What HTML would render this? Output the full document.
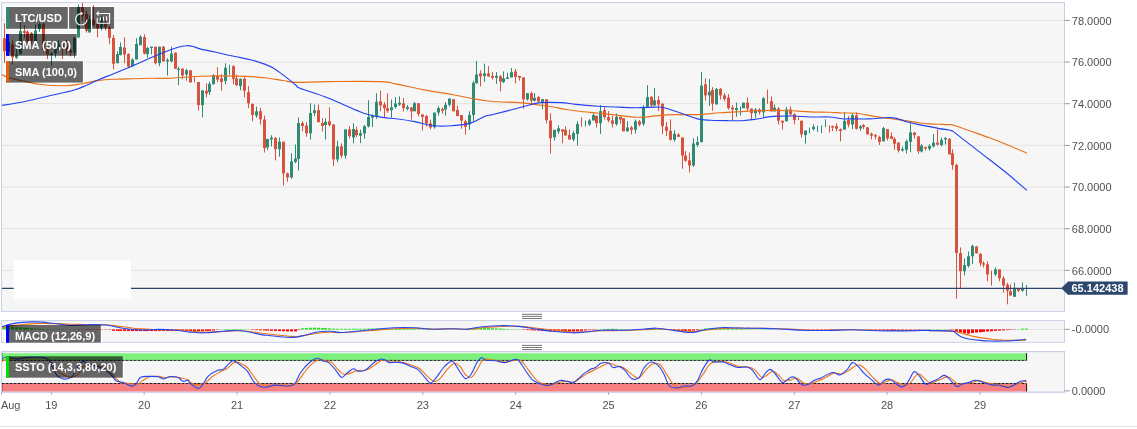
<!DOCTYPE html>
<html><head><meta charset="utf-8"><title>LTC/USD</title>
<style>html,body{margin:0;padding:0;background:#fff;overflow:hidden}body{width:1137px;height:429px;position:relative}</style>
</head><body>
<svg width="1137" height="429" viewBox="0 0 1137 429" style="position:absolute;left:0;top:0" font-family="Liberation Sans, Arial, sans-serif">
<rect x="1.5" y="2.5" width="1063.0" height="308.9" fill="#f6f6f6" stroke="#c9d0e8" stroke-width="1"/>
<rect x="1.5" y="320.6" width="1063.0" height="21.799999999999955" fill="#f6f6f6" stroke="#c9d0e8" stroke-width="1"/>
<rect x="1.5" y="351.6" width="1063.0" height="40.599999999999966" fill="#f6f6f6" stroke="#c9d0e8" stroke-width="1"/>
<line x1="2.0" x2="1064.0" y1="270.40" y2="270.40" stroke="#e2e2e2" stroke-width="1"/>
<line x1="2.0" x2="1064.0" y1="228.73" y2="228.73" stroke="#e2e2e2" stroke-width="1"/>
<line x1="2.0" x2="1064.0" y1="187.07" y2="187.07" stroke="#e2e2e2" stroke-width="1"/>
<line x1="2.0" x2="1064.0" y1="145.40" y2="145.40" stroke="#e2e2e2" stroke-width="1"/>
<line x1="2.0" x2="1064.0" y1="103.73" y2="103.73" stroke="#e2e2e2" stroke-width="1"/>
<line x1="2.0" x2="1064.0" y1="62.07" y2="62.07" stroke="#e2e2e2" stroke-width="1"/>
<line x1="2.0" x2="1064.0" y1="20.40" y2="20.40" stroke="#e2e2e2" stroke-width="1"/>
<line x1="2.0" x2="1064.0" y1="329.5" y2="329.5" stroke="#e2e2e2" stroke-width="1"/>
<rect x="4.7" y="5.7" width="64.4" height="24.4" fill="#fff"/>
<rect x="67.8" y="5.7" width="24.4" height="24.4" fill="#fff"/>
<rect x="90.8" y="5.7" width="24.6" height="24.4" fill="#fff"/>
<rect x="4.7" y="32.7" width="73.3" height="24.4" fill="#fff"/>
<rect x="4.7" y="59.9" width="79.5" height="24.0" fill="#fff"/>
<rect x="4.7" y="323.7" width="97.4" height="20.3" fill="#fff"/>
<rect x="4.7" y="355.0" width="119.4" height="24.0" fill="#fff"/>
<clipPath id="cm"><rect x="2.0" y="3.0" width="1062.0" height="307.9"/></clipPath>
<clipPath id="cs"><rect x="2.0" y="352.1" width="1062.0" height="39.599999999999966"/></clipPath>
<clipPath id="cd"><rect x="2.0" y="321.1" width="1062.0" height="20.799999999999955"/></clipPath>
<g clip-path="url(#cm)">
<line x1="0.50" x2="0.50" y1="31.00" y2="73.00" stroke="#2f8c74" stroke-width="1"/>
<rect x="-1" y="45.00" width="3" height="23.00" fill="#2f8c74"/>
<line x1="4.50" x2="4.50" y1="23.30" y2="63.00" stroke="#d8533f" stroke-width="1"/>
<rect x="3" y="38.30" width="3" height="13.00" fill="#d8533f"/>
<line x1="8.50" x2="8.50" y1="40.00" y2="56.00" stroke="#2f8c74" stroke-width="1"/>
<rect x="7" y="42.00" width="3" height="10.00" fill="#2f8c74"/>
<line x1="12.50" x2="12.50" y1="40.20" y2="64.30" stroke="#d8533f" stroke-width="1"/>
<rect x="11" y="44.10" width="3" height="13.10" fill="#d8533f"/>
<line x1="16.50" x2="16.50" y1="48.70" y2="58.90" stroke="#2f8c74" stroke-width="1"/>
<rect x="15" y="54.60" width="3" height="3.20" fill="#2f8c74"/>
<line x1="20.50" x2="20.50" y1="22.00" y2="54.50" stroke="#2f8c74" stroke-width="1"/>
<rect x="19" y="31.10" width="3" height="22.80" fill="#2f8c74"/>
<line x1="24.50" x2="24.50" y1="25.20" y2="38.30" stroke="#d8533f" stroke-width="1"/>
<rect x="23" y="31.10" width="3" height="1.90" fill="#d8533f"/>
<line x1="27.50" x2="27.50" y1="30.40" y2="42.00" stroke="#d8533f" stroke-width="1"/>
<rect x="26" y="31.70" width="3" height="9.80" fill="#d8533f"/>
<line x1="31.50" x2="31.50" y1="32.00" y2="44.00" stroke="#d8533f" stroke-width="1"/>
<rect x="30" y="33.00" width="3" height="7.90" fill="#d8533f"/>
<line x1="35.50" x2="35.50" y1="24.60" y2="42.00" stroke="#2f8c74" stroke-width="1"/>
<rect x="34" y="30.40" width="3" height="11.10" fill="#2f8c74"/>
<line x1="39.50" x2="39.50" y1="22.60" y2="31.70" stroke="#2f8c74" stroke-width="1"/>
<rect x="38" y="23.90" width="3" height="5.20" fill="#2f8c74"/>
<line x1="43.50" x2="43.50" y1="23.00" y2="51.00" stroke="#d8533f" stroke-width="1"/>
<rect x="42" y="23.70" width="3" height="26.30" fill="#d8533f"/>
<line x1="47.50" x2="47.50" y1="48.00" y2="59.10" stroke="#d8533f" stroke-width="1"/>
<rect x="46" y="49.30" width="3" height="5.30" fill="#d8533f"/>
<line x1="51.50" x2="51.50" y1="52.00" y2="65.70" stroke="#2f8c74" stroke-width="1"/>
<rect x="50" y="53.30" width="3" height="1.70" fill="#2f8c74"/>
<line x1="55.50" x2="55.50" y1="48.00" y2="57.80" stroke="#2f8c74" stroke-width="1"/>
<rect x="54" y="49.30" width="3" height="4.00" fill="#2f8c74"/>
<line x1="58.50" x2="58.50" y1="40.20" y2="50.70" stroke="#2f8c74" stroke-width="1"/>
<rect x="57" y="44.00" width="3" height="5.30" fill="#2f8c74"/>
<line x1="62.50" x2="62.50" y1="43.00" y2="59.10" stroke="#d8533f" stroke-width="1"/>
<rect x="61" y="44.00" width="3" height="3.00" fill="#d8533f"/>
<line x1="66.50" x2="66.50" y1="39.60" y2="53.90" stroke="#d8533f" stroke-width="1"/>
<rect x="65" y="44.10" width="3" height="5.20" fill="#d8533f"/>
<line x1="70.50" x2="70.50" y1="49.00" y2="56.50" stroke="#d8533f" stroke-width="1"/>
<rect x="69" y="50.00" width="3" height="2.60" fill="#d8533f"/>
<line x1="74.50" x2="74.50" y1="37.00" y2="57.80" stroke="#2f8c74" stroke-width="1"/>
<rect x="73" y="37.60" width="3" height="15.00" fill="#2f8c74"/>
<line x1="78.50" x2="78.50" y1="4.60" y2="38.00" stroke="#2f8c74" stroke-width="1"/>
<rect x="77" y="7.00" width="3" height="30.40" fill="#2f8c74"/>
<line x1="82.50" x2="82.50" y1="1.80" y2="21.00" stroke="#d8533f" stroke-width="1"/>
<rect x="81" y="7.20" width="3" height="9.20" fill="#d8533f"/>
<line x1="86.50" x2="86.50" y1="10.30" y2="32.60" stroke="#d8533f" stroke-width="1"/>
<rect x="85" y="13.80" width="3" height="17.00" fill="#d8533f"/>
<line x1="89.50" x2="89.50" y1="15.20" y2="33.00" stroke="#2f8c74" stroke-width="1"/>
<rect x="88" y="19.00" width="3" height="13.30" fill="#2f8c74"/>
<line x1="93.50" x2="93.50" y1="5.10" y2="26.50" stroke="#d8533f" stroke-width="1"/>
<rect x="92" y="19.50" width="3" height="5.60" fill="#d8533f"/>
<line x1="97.50" x2="97.50" y1="22.00" y2="37.40" stroke="#d8533f" stroke-width="1"/>
<rect x="96" y="23.60" width="3" height="4.60" fill="#d8533f"/>
<line x1="101.50" x2="101.50" y1="16.40" y2="30.60" stroke="#2f8c74" stroke-width="1"/>
<rect x="100" y="19.00" width="3" height="8.70" fill="#2f8c74"/>
<line x1="105.50" x2="105.50" y1="20.00" y2="30.60" stroke="#d8533f" stroke-width="1"/>
<rect x="104" y="22.00" width="3" height="5.20" fill="#d8533f"/>
<line x1="109.50" x2="109.50" y1="26.00" y2="44.20" stroke="#d8533f" stroke-width="1"/>
<rect x="108" y="27.50" width="3" height="10.40" fill="#d8533f"/>
<line x1="113.50" x2="113.50" y1="34.90" y2="69.40" stroke="#d8533f" stroke-width="1"/>
<rect x="112" y="37.90" width="3" height="25.90" fill="#d8533f"/>
<line x1="117.50" x2="117.50" y1="51.30" y2="63.20" stroke="#2f8c74" stroke-width="1"/>
<rect x="116" y="54.10" width="3" height="9.10" fill="#2f8c74"/>
<line x1="120.50" x2="120.50" y1="42.40" y2="55.40" stroke="#2f8c74" stroke-width="1"/>
<rect x="119" y="47.00" width="3" height="8.00" fill="#2f8c74"/>
<line x1="124.50" x2="124.50" y1="37.30" y2="63.20" stroke="#d8533f" stroke-width="1"/>
<rect x="123" y="47.60" width="3" height="6.90" fill="#d8533f"/>
<line x1="128.50" x2="128.50" y1="53.20" y2="68.10" stroke="#d8533f" stroke-width="1"/>
<rect x="127" y="54.10" width="3" height="12.50" fill="#d8533f"/>
<line x1="132.50" x2="132.50" y1="58.20" y2="66.20" stroke="#2f8c74" stroke-width="1"/>
<rect x="131" y="59.50" width="3" height="6.70" fill="#2f8c74"/>
<line x1="136.50" x2="136.50" y1="38.30" y2="59.50" stroke="#2f8c74" stroke-width="1"/>
<rect x="135" y="43.90" width="3" height="15.60" fill="#2f8c74"/>
<line x1="140.50" x2="140.50" y1="35.30" y2="45.20" stroke="#2f8c74" stroke-width="1"/>
<rect x="139" y="36.80" width="3" height="8.40" fill="#2f8c74"/>
<line x1="144.50" x2="144.50" y1="34.20" y2="54.50" stroke="#d8533f" stroke-width="1"/>
<rect x="143" y="37.10" width="3" height="16.50" fill="#d8533f"/>
<line x1="147.50" x2="147.50" y1="46.70" y2="57.70" stroke="#2f8c74" stroke-width="1"/>
<rect x="146" y="48.00" width="3" height="6.10" fill="#2f8c74"/>
<line x1="151.50" x2="151.50" y1="46.70" y2="54.50" stroke="#2f8c74" stroke-width="1"/>
<rect x="150" y="46.70" width="3" height="1.30" fill="#2f8c74"/>
<line x1="155.50" x2="155.50" y1="46.70" y2="64.40" stroke="#d8533f" stroke-width="1"/>
<rect x="154" y="46.70" width="3" height="16.50" fill="#d8533f"/>
<line x1="159.50" x2="159.50" y1="46.70" y2="66.20" stroke="#2f8c74" stroke-width="1"/>
<rect x="158" y="46.70" width="3" height="16.50" fill="#2f8c74"/>
<line x1="163.50" x2="163.50" y1="46.10" y2="61.40" stroke="#d8533f" stroke-width="1"/>
<rect x="162" y="46.70" width="3" height="14.70" fill="#d8533f"/>
<line x1="167.50" x2="167.50" y1="58.20" y2="75.50" stroke="#2f8c74" stroke-width="1"/>
<rect x="166" y="60.00" width="3" height="1.40" fill="#2f8c74"/>
<line x1="171.50" x2="171.50" y1="46.70" y2="62.50" stroke="#2f8c74" stroke-width="1"/>
<rect x="170" y="53.60" width="3" height="7.80" fill="#2f8c74"/>
<line x1="175.50" x2="175.50" y1="52.60" y2="68.80" stroke="#d8533f" stroke-width="1"/>
<rect x="174" y="52.60" width="3" height="16.20" fill="#d8533f"/>
<line x1="178.50" x2="178.50" y1="66.60" y2="85.20" stroke="#2f8c74" stroke-width="1"/>
<rect x="177" y="68.80" width="3" height="1.20" fill="#2f8c74"/>
<line x1="182.50" x2="182.50" y1="68.50" y2="79.30" stroke="#d8533f" stroke-width="1"/>
<rect x="181" y="68.50" width="3" height="7.00" fill="#d8533f"/>
<line x1="186.50" x2="186.50" y1="68.80" y2="80.60" stroke="#2f8c74" stroke-width="1"/>
<rect x="185" y="70.30" width="3" height="4.10" fill="#2f8c74"/>
<line x1="190.50" x2="190.50" y1="70.30" y2="82.40" stroke="#d8533f" stroke-width="1"/>
<rect x="189" y="70.30" width="3" height="12.10" fill="#d8533f"/>
<line x1="194.50" x2="194.50" y1="76.80" y2="82.40" stroke="#d8533f" stroke-width="1"/>
<line x1="198.50" x2="198.50" y1="82.00" y2="110.40" stroke="#d8533f" stroke-width="1"/>
<rect x="197" y="82.00" width="3" height="23.10" fill="#d8533f"/>
<line x1="202.50" x2="202.50" y1="90.40" y2="117.30" stroke="#2f8c74" stroke-width="1"/>
<rect x="201" y="90.40" width="3" height="14.70" fill="#2f8c74"/>
<line x1="206.50" x2="206.50" y1="83.30" y2="97.30" stroke="#d8533f" stroke-width="1"/>
<rect x="205" y="90.80" width="3" height="2.80" fill="#d8533f"/>
<line x1="209.50" x2="209.50" y1="81.50" y2="95.00" stroke="#2f8c74" stroke-width="1"/>
<rect x="208" y="83.90" width="3" height="8.20" fill="#2f8c74"/>
<line x1="213.50" x2="213.50" y1="74.00" y2="84.30" stroke="#2f8c74" stroke-width="1"/>
<rect x="212" y="75.30" width="3" height="9.00" fill="#2f8c74"/>
<line x1="217.50" x2="217.50" y1="67.10" y2="82.40" stroke="#d8533f" stroke-width="1"/>
<rect x="216" y="75.90" width="3" height="3.70" fill="#d8533f"/>
<line x1="221.50" x2="221.50" y1="74.00" y2="90.80" stroke="#d8533f" stroke-width="1"/>
<rect x="220" y="78.30" width="3" height="3.70" fill="#d8533f"/>
<line x1="225.50" x2="225.50" y1="63.20" y2="84.30" stroke="#2f8c74" stroke-width="1"/>
<rect x="224" y="67.80" width="3" height="13.10" fill="#2f8c74"/>
<line x1="229.50" x2="229.50" y1="64.70" y2="74.90" stroke="#2f8c74" stroke-width="1"/>
<line x1="233.50" x2="233.50" y1="65.20" y2="84.30" stroke="#d8533f" stroke-width="1"/>
<rect x="232" y="66.20" width="3" height="12.50" fill="#d8533f"/>
<line x1="236.50" x2="236.50" y1="74.60" y2="86.10" stroke="#d8533f" stroke-width="1"/>
<rect x="235" y="78.30" width="3" height="6.90" fill="#d8533f"/>
<line x1="240.50" x2="240.50" y1="78.70" y2="90.20" stroke="#2f8c74" stroke-width="1"/>
<rect x="239" y="78.70" width="3" height="7.40" fill="#2f8c74"/>
<line x1="244.50" x2="244.50" y1="77.20" y2="97.30" stroke="#d8533f" stroke-width="1"/>
<rect x="243" y="78.70" width="3" height="12.10" fill="#d8533f"/>
<line x1="248.50" x2="248.50" y1="86.10" y2="108.10" stroke="#d8533f" stroke-width="1"/>
<rect x="247" y="92.10" width="3" height="11.20" fill="#d8533f"/>
<line x1="252.50" x2="252.50" y1="103.80" y2="121.20" stroke="#d8533f" stroke-width="1"/>
<rect x="251" y="103.80" width="3" height="11.20" fill="#d8533f"/>
<line x1="256.50" x2="256.50" y1="106.60" y2="117.80" stroke="#2f8c74" stroke-width="1"/>
<rect x="255" y="111.30" width="3" height="4.30" fill="#2f8c74"/>
<line x1="260.50" x2="260.50" y1="107.60" y2="124.50" stroke="#d8533f" stroke-width="1"/>
<rect x="259" y="111.20" width="3" height="8.10" fill="#d8533f"/>
<line x1="264.50" x2="264.50" y1="115.60" y2="152.50" stroke="#d8533f" stroke-width="1"/>
<rect x="263" y="119.50" width="3" height="28.70" fill="#d8533f"/>
<line x1="267.50" x2="267.50" y1="138.90" y2="150.10" stroke="#2f8c74" stroke-width="1"/>
<rect x="266" y="138.90" width="3" height="8.40" fill="#2f8c74"/>
<line x1="271.50" x2="271.50" y1="135.20" y2="146.40" stroke="#2f8c74" stroke-width="1"/>
<rect x="270" y="137.60" width="3" height="1.90" fill="#2f8c74"/>
<line x1="275.50" x2="275.50" y1="137.00" y2="160.40" stroke="#d8533f" stroke-width="1"/>
<rect x="274" y="138.00" width="3" height="11.20" fill="#d8533f"/>
<line x1="279.50" x2="279.50" y1="137.60" y2="156.60" stroke="#2f8c74" stroke-width="1"/>
<rect x="278" y="141.70" width="3" height="7.50" fill="#2f8c74"/>
<line x1="283.50" x2="283.50" y1="141.70" y2="185.60" stroke="#d8533f" stroke-width="1"/>
<rect x="282" y="141.70" width="3" height="31.70" fill="#d8533f"/>
<line x1="287.50" x2="287.50" y1="172.50" y2="181.80" stroke="#d8533f" stroke-width="1"/>
<rect x="286" y="173.40" width="3" height="4.10" fill="#d8533f"/>
<line x1="291.50" x2="291.50" y1="153.30" y2="178.70" stroke="#2f8c74" stroke-width="1"/>
<rect x="290" y="161.30" width="3" height="16.20" fill="#2f8c74"/>
<line x1="295.50" x2="295.50" y1="144.50" y2="163.20" stroke="#2f8c74" stroke-width="1"/>
<rect x="294" y="158.50" width="3" height="3.40" fill="#2f8c74"/>
<line x1="298.50" x2="298.50" y1="117.50" y2="170.60" stroke="#2f8c74" stroke-width="1"/>
<rect x="297" y="123.10" width="3" height="35.80" fill="#2f8c74"/>
<line x1="302.50" x2="302.50" y1="121.20" y2="131.20" stroke="#d8533f" stroke-width="1"/>
<rect x="301" y="123.10" width="3" height="2.90" fill="#d8533f"/>
<line x1="306.50" x2="306.50" y1="122.10" y2="136.60" stroke="#d8533f" stroke-width="1"/>
<rect x="305" y="125.50" width="3" height="7.80" fill="#d8533f"/>
<line x1="310.50" x2="310.50" y1="103.20" y2="139.50" stroke="#2f8c74" stroke-width="1"/>
<rect x="309" y="113.00" width="3" height="20.30" fill="#2f8c74"/>
<line x1="314.50" x2="314.50" y1="104.50" y2="116.30" stroke="#2f8c74" stroke-width="1"/>
<rect x="313" y="110.30" width="3" height="2.70" fill="#2f8c74"/>
<line x1="318.50" x2="318.50" y1="104.50" y2="122.20" stroke="#d8533f" stroke-width="1"/>
<rect x="317" y="110.10" width="3" height="12.10" fill="#d8533f"/>
<line x1="322.50" x2="322.50" y1="118.20" y2="131.50" stroke="#d8533f" stroke-width="1"/>
<rect x="321" y="123.00" width="3" height="3.00" fill="#d8533f"/>
<line x1="325.50" x2="325.50" y1="118.20" y2="139.50" stroke="#2f8c74" stroke-width="1"/>
<rect x="324" y="121.70" width="3" height="3.30" fill="#2f8c74"/>
<line x1="329.50" x2="329.50" y1="107.30" y2="126.40" stroke="#d8533f" stroke-width="1"/>
<rect x="328" y="121.30" width="3" height="3.70" fill="#d8533f"/>
<line x1="333.50" x2="333.50" y1="124.50" y2="166.00" stroke="#d8533f" stroke-width="1"/>
<rect x="332" y="124.50" width="3" height="34.90" fill="#d8533f"/>
<line x1="337.50" x2="337.50" y1="140.70" y2="162.20" stroke="#2f8c74" stroke-width="1"/>
<rect x="336" y="146.40" width="3" height="13.00" fill="#2f8c74"/>
<line x1="341.50" x2="341.50" y1="143.40" y2="158.10" stroke="#d8533f" stroke-width="1"/>
<rect x="340" y="146.40" width="3" height="9.30" fill="#d8533f"/>
<line x1="345.50" x2="345.50" y1="129.40" y2="158.50" stroke="#2f8c74" stroke-width="1"/>
<rect x="344" y="129.40" width="3" height="26.30" fill="#2f8c74"/>
<line x1="349.50" x2="349.50" y1="126.20" y2="138.50" stroke="#d8533f" stroke-width="1"/>
<rect x="348" y="129.40" width="3" height="6.70" fill="#d8533f"/>
<line x1="353.50" x2="353.50" y1="123.30" y2="143.30" stroke="#2f8c74" stroke-width="1"/>
<rect x="352" y="129.00" width="3" height="8.40" fill="#2f8c74"/>
<line x1="356.50" x2="356.50" y1="126.80" y2="137.20" stroke="#d8533f" stroke-width="1"/>
<rect x="355" y="129.90" width="3" height="5.30" fill="#d8533f"/>
<line x1="360.50" x2="360.50" y1="129.70" y2="143.10" stroke="#2f8c74" stroke-width="1"/>
<rect x="359" y="133.10" width="3" height="2.60" fill="#2f8c74"/>
<line x1="364.50" x2="364.50" y1="125.00" y2="138.70" stroke="#2f8c74" stroke-width="1"/>
<rect x="363" y="126.30" width="3" height="7.10" fill="#2f8c74"/>
<line x1="368.50" x2="368.50" y1="100.20" y2="127.50" stroke="#2f8c74" stroke-width="1"/>
<rect x="367" y="117.00" width="3" height="9.30" fill="#2f8c74"/>
<line x1="372.50" x2="372.50" y1="114.40" y2="126.90" stroke="#2f8c74" stroke-width="1"/>
<rect x="371" y="115.70" width="3" height="1.90" fill="#2f8c74"/>
<line x1="376.50" x2="376.50" y1="93.30" y2="118.90" stroke="#2f8c74" stroke-width="1"/>
<rect x="375" y="101.70" width="3" height="14.90" fill="#2f8c74"/>
<line x1="380.50" x2="380.50" y1="90.50" y2="111.40" stroke="#d8533f" stroke-width="1"/>
<rect x="379" y="101.30" width="3" height="4.10" fill="#d8533f"/>
<line x1="384.50" x2="384.50" y1="102.10" y2="117.00" stroke="#d8533f" stroke-width="1"/>
<rect x="383" y="104.50" width="3" height="3.70" fill="#d8533f"/>
<line x1="387.50" x2="387.50" y1="93.30" y2="112.90" stroke="#d8533f" stroke-width="1"/>
<rect x="386" y="108.20" width="3" height="2.80" fill="#d8533f"/>
<line x1="391.50" x2="391.50" y1="99.50" y2="117.60" stroke="#2f8c74" stroke-width="1"/>
<rect x="390" y="107.30" width="3" height="2.80" fill="#2f8c74"/>
<line x1="395.50" x2="395.50" y1="97.10" y2="108.80" stroke="#2f8c74" stroke-width="1"/>
<rect x="394" y="103.50" width="3" height="3.50" fill="#2f8c74"/>
<line x1="399.50" x2="399.50" y1="96.40" y2="105.80" stroke="#2f8c74" stroke-width="1"/>
<rect x="398" y="102.70" width="3" height="1.90" fill="#2f8c74"/>
<line x1="403.50" x2="403.50" y1="98.10" y2="111.30" stroke="#d8533f" stroke-width="1"/>
<rect x="402" y="103.40" width="3" height="4.70" fill="#d8533f"/>
<line x1="407.50" x2="407.50" y1="105.10" y2="110.40" stroke="#2f8c74" stroke-width="1"/>
<rect x="406" y="107.00" width="3" height="1.90" fill="#2f8c74"/>
<line x1="411.50" x2="411.50" y1="107.00" y2="119.70" stroke="#d8533f" stroke-width="1"/>
<rect x="410" y="107.60" width="3" height="3.70" fill="#d8533f"/>
<line x1="414.50" x2="414.50" y1="102.00" y2="111.30" stroke="#2f8c74" stroke-width="1"/>
<rect x="413" y="103.30" width="3" height="8.00" fill="#2f8c74"/>
<line x1="418.50" x2="418.50" y1="103.30" y2="116.30" stroke="#d8533f" stroke-width="1"/>
<rect x="417" y="103.30" width="3" height="10.80" fill="#d8533f"/>
<line x1="422.50" x2="422.50" y1="114.50" y2="130.50" stroke="#d8533f" stroke-width="1"/>
<rect x="421" y="114.50" width="3" height="2.40" fill="#d8533f"/>
<line x1="426.50" x2="426.50" y1="115.00" y2="126.80" stroke="#d8533f" stroke-width="1"/>
<rect x="425" y="116.00" width="3" height="7.40" fill="#d8533f"/>
<line x1="430.50" x2="430.50" y1="119.70" y2="129.40" stroke="#d8533f" stroke-width="1"/>
<rect x="429" y="123.40" width="3" height="4.10" fill="#d8533f"/>
<line x1="434.50" x2="434.50" y1="112.60" y2="128.70" stroke="#2f8c74" stroke-width="1"/>
<rect x="433" y="112.60" width="3" height="14.60" fill="#2f8c74"/>
<line x1="438.50" x2="438.50" y1="106.30" y2="115.60" stroke="#2f8c74" stroke-width="1"/>
<rect x="437" y="108.10" width="3" height="4.50" fill="#2f8c74"/>
<line x1="442.50" x2="442.50" y1="107.60" y2="113.70" stroke="#d8533f" stroke-width="1"/>
<rect x="441" y="108.90" width="3" height="1.80" fill="#d8533f"/>
<line x1="445.50" x2="445.50" y1="102.00" y2="115.60" stroke="#2f8c74" stroke-width="1"/>
<rect x="444" y="104.80" width="3" height="4.60" fill="#2f8c74"/>
<line x1="449.50" x2="449.50" y1="98.20" y2="106.60" stroke="#2f8c74" stroke-width="1"/>
<rect x="448" y="98.60" width="3" height="6.20" fill="#2f8c74"/>
<line x1="453.50" x2="453.50" y1="99.20" y2="111.30" stroke="#d8533f" stroke-width="1"/>
<rect x="452" y="99.20" width="3" height="12.10" fill="#d8533f"/>
<line x1="457.50" x2="457.50" y1="105.70" y2="116.30" stroke="#d8533f" stroke-width="1"/>
<rect x="456" y="110.00" width="3" height="6.00" fill="#d8533f"/>
<line x1="461.50" x2="461.50" y1="115.00" y2="128.70" stroke="#d8533f" stroke-width="1"/>
<rect x="460" y="115.00" width="3" height="5.60" fill="#d8533f"/>
<line x1="465.50" x2="465.50" y1="119.70" y2="134.60" stroke="#d8533f" stroke-width="1"/>
<rect x="464" y="121.20" width="3" height="5.60" fill="#d8533f"/>
<line x1="469.50" x2="469.50" y1="111.30" y2="130.00" stroke="#2f8c74" stroke-width="1"/>
<rect x="468" y="115.00" width="3" height="9.40" fill="#2f8c74"/>
<line x1="473.50" x2="473.50" y1="80.90" y2="121.20" stroke="#2f8c74" stroke-width="1"/>
<rect x="472" y="82.80" width="3" height="32.20" fill="#2f8c74"/>
<line x1="476.50" x2="476.50" y1="60.90" y2="83.30" stroke="#2f8c74" stroke-width="1"/>
<rect x="475" y="74.60" width="3" height="8.70" fill="#2f8c74"/>
<line x1="480.50" x2="480.50" y1="70.30" y2="86.50" stroke="#d8533f" stroke-width="1"/>
<rect x="479" y="73.40" width="3" height="3.00" fill="#d8533f"/>
<line x1="484.50" x2="484.50" y1="63.70" y2="82.00" stroke="#2f8c74" stroke-width="1"/>
<rect x="483" y="73.40" width="3" height="2.50" fill="#2f8c74"/>
<line x1="488.50" x2="488.50" y1="66.00" y2="76.80" stroke="#d8533f" stroke-width="1"/>
<rect x="487" y="73.40" width="3" height="3.00" fill="#d8533f"/>
<line x1="492.50" x2="492.50" y1="72.10" y2="79.60" stroke="#d8533f" stroke-width="1"/>
<rect x="491" y="75.90" width="3" height="1.80" fill="#d8533f"/>
<line x1="496.50" x2="496.50" y1="72.10" y2="83.90" stroke="#2f8c74" stroke-width="1"/>
<rect x="495" y="75.90" width="3" height="1.80" fill="#2f8c74"/>
<line x1="500.50" x2="500.50" y1="75.00" y2="91.30" stroke="#d8533f" stroke-width="1"/>
<rect x="499" y="76.40" width="3" height="5.10" fill="#d8533f"/>
<line x1="503.50" x2="503.50" y1="71.40" y2="83.00" stroke="#2f8c74" stroke-width="1"/>
<rect x="502" y="78.30" width="3" height="3.80" fill="#2f8c74"/>
<line x1="507.50" x2="507.50" y1="72.70" y2="78.90" stroke="#2f8c74" stroke-width="1"/>
<rect x="506" y="77.40" width="3" height="1.50" fill="#2f8c74"/>
<line x1="511.50" x2="511.50" y1="68.10" y2="77.40" stroke="#2f8c74" stroke-width="1"/>
<rect x="510" y="72.20" width="3" height="5.20" fill="#2f8c74"/>
<line x1="515.50" x2="515.50" y1="69.00" y2="83.40" stroke="#d8533f" stroke-width="1"/>
<rect x="514" y="71.40" width="3" height="5.60" fill="#d8533f"/>
<line x1="519.50" x2="519.50" y1="75.90" y2="80.70" stroke="#d8533f" stroke-width="1"/>
<rect x="518" y="75.90" width="3" height="1.90" fill="#d8533f"/>
<line x1="523.50" x2="523.50" y1="77.40" y2="108.70" stroke="#d8533f" stroke-width="1"/>
<rect x="522" y="77.40" width="3" height="22.00" fill="#d8533f"/>
<line x1="527.50" x2="527.50" y1="93.20" y2="100.70" stroke="#2f8c74" stroke-width="1"/>
<rect x="526" y="93.20" width="3" height="6.20" fill="#2f8c74"/>
<line x1="531.50" x2="531.50" y1="91.90" y2="103.90" stroke="#d8533f" stroke-width="1"/>
<rect x="530" y="93.20" width="3" height="7.50" fill="#d8533f"/>
<line x1="534.50" x2="534.50" y1="93.20" y2="101.60" stroke="#2f8c74" stroke-width="1"/>
<rect x="533" y="97.90" width="3" height="2.80" fill="#2f8c74"/>
<line x1="538.50" x2="538.50" y1="96.00" y2="101.60" stroke="#d8533f" stroke-width="1"/>
<rect x="537" y="97.00" width="3" height="4.60" fill="#d8533f"/>
<line x1="542.50" x2="542.50" y1="99.20" y2="109.40" stroke="#2f8c74" stroke-width="1"/>
<rect x="541" y="99.20" width="3" height="3.70" fill="#2f8c74"/>
<line x1="546.50" x2="546.50" y1="99.20" y2="123.40" stroke="#d8533f" stroke-width="1"/>
<rect x="545" y="99.20" width="3" height="21.00" fill="#d8533f"/>
<line x1="550.50" x2="550.50" y1="113.30" y2="153.70" stroke="#d8533f" stroke-width="1"/>
<rect x="549" y="120.50" width="3" height="17.70" fill="#d8533f"/>
<line x1="554.50" x2="554.50" y1="129.70" y2="140.60" stroke="#2f8c74" stroke-width="1"/>
<rect x="553" y="129.80" width="3" height="7.40" fill="#2f8c74"/>
<line x1="558.50" x2="558.50" y1="125.30" y2="133.90" stroke="#2f8c74" stroke-width="1"/>
<rect x="557" y="128.30" width="3" height="3.20" fill="#2f8c74"/>
<line x1="562.50" x2="562.50" y1="129.40" y2="143.20" stroke="#d8533f" stroke-width="1"/>
<rect x="561" y="129.40" width="3" height="2.20" fill="#d8533f"/>
<line x1="565.50" x2="565.50" y1="126.40" y2="135.80" stroke="#d8533f" stroke-width="1"/>
<rect x="564" y="129.80" width="3" height="5.60" fill="#d8533f"/>
<line x1="569.50" x2="569.50" y1="129.40" y2="139.50" stroke="#d8533f" stroke-width="1"/>
<rect x="568" y="135.00" width="3" height="4.50" fill="#d8533f"/>
<line x1="573.50" x2="573.50" y1="130.70" y2="141.30" stroke="#2f8c74" stroke-width="1"/>
<rect x="572" y="133.10" width="3" height="6.40" fill="#2f8c74"/>
<line x1="577.50" x2="577.50" y1="121.30" y2="145.60" stroke="#2f8c74" stroke-width="1"/>
<rect x="576" y="124.10" width="3" height="9.80" fill="#2f8c74"/>
<line x1="581.50" x2="581.50" y1="117.30" y2="126.60" stroke="#d8533f" stroke-width="1"/>
<line x1="585.50" x2="585.50" y1="120.40" y2="126.50" stroke="#2f8c74" stroke-width="1"/>
<line x1="589.50" x2="589.50" y1="119.00" y2="125.80" stroke="#2f8c74" stroke-width="1"/>
<rect x="588" y="120.40" width="3" height="4.10" fill="#2f8c74"/>
<line x1="593.50" x2="593.50" y1="113.30" y2="120.40" stroke="#2f8c74" stroke-width="1"/>
<rect x="592" y="115.00" width="3" height="5.40" fill="#2f8c74"/>
<line x1="596.50" x2="596.50" y1="115.70" y2="127.50" stroke="#d8533f" stroke-width="1"/>
<rect x="595" y="115.70" width="3" height="7.50" fill="#d8533f"/>
<line x1="600.50" x2="600.50" y1="105.10" y2="133.90" stroke="#2f8c74" stroke-width="1"/>
<rect x="599" y="111.10" width="3" height="12.10" fill="#2f8c74"/>
<line x1="604.50" x2="604.50" y1="107.40" y2="119.50" stroke="#d8533f" stroke-width="1"/>
<rect x="603" y="110.20" width="3" height="6.90" fill="#d8533f"/>
<line x1="608.50" x2="608.50" y1="111.10" y2="122.30" stroke="#d8533f" stroke-width="1"/>
<rect x="607" y="117.10" width="3" height="3.30" fill="#d8533f"/>
<line x1="612.50" x2="612.50" y1="115.80" y2="127.50" stroke="#d8533f" stroke-width="1"/>
<rect x="611" y="120.40" width="3" height="3.40" fill="#d8533f"/>
<line x1="616.50" x2="616.50" y1="113.40" y2="125.70" stroke="#2f8c74" stroke-width="1"/>
<rect x="615" y="116.70" width="3" height="7.50" fill="#2f8c74"/>
<line x1="620.50" x2="620.50" y1="116.70" y2="123.80" stroke="#d8533f" stroke-width="1"/>
<rect x="619" y="116.70" width="3" height="2.80" fill="#d8533f"/>
<line x1="623.50" x2="623.50" y1="118.20" y2="131.30" stroke="#d8533f" stroke-width="1"/>
<rect x="622" y="118.20" width="3" height="13.10" fill="#d8533f"/>
<line x1="627.50" x2="627.50" y1="121.40" y2="131.30" stroke="#2f8c74" stroke-width="1"/>
<rect x="626" y="127.50" width="3" height="3.80" fill="#2f8c74"/>
<line x1="631.50" x2="631.50" y1="126.00" y2="134.40" stroke="#d8533f" stroke-width="1"/>
<rect x="630" y="127.50" width="3" height="2.30" fill="#d8533f"/>
<line x1="635.50" x2="635.50" y1="119.50" y2="133.50" stroke="#2f8c74" stroke-width="1"/>
<rect x="634" y="121.30" width="3" height="8.40" fill="#2f8c74"/>
<line x1="639.50" x2="639.50" y1="120.00" y2="126.40" stroke="#d8533f" stroke-width="1"/>
<rect x="638" y="121.40" width="3" height="3.30" fill="#d8533f"/>
<line x1="643.50" x2="643.50" y1="105.20" y2="125.80" stroke="#2f8c74" stroke-width="1"/>
<rect x="642" y="107.70" width="3" height="16.10" fill="#2f8c74"/>
<line x1="647.50" x2="647.50" y1="85.20" y2="106.80" stroke="#2f8c74" stroke-width="1"/>
<rect x="646" y="97.10" width="3" height="9.70" fill="#2f8c74"/>
<line x1="651.50" x2="651.50" y1="95.80" y2="107.10" stroke="#d8533f" stroke-width="1"/>
<rect x="650" y="96.90" width="3" height="8.30" fill="#d8533f"/>
<line x1="654.50" x2="654.50" y1="88.00" y2="105.50" stroke="#2f8c74" stroke-width="1"/>
<rect x="653" y="100.30" width="3" height="5.20" fill="#2f8c74"/>
<line x1="658.50" x2="658.50" y1="96.10" y2="111.10" stroke="#d8533f" stroke-width="1"/>
<rect x="657" y="100.10" width="3" height="4.40" fill="#d8533f"/>
<line x1="662.50" x2="662.50" y1="102.50" y2="134.20" stroke="#d8533f" stroke-width="1"/>
<rect x="661" y="103.90" width="3" height="22.30" fill="#d8533f"/>
<line x1="666.50" x2="666.50" y1="122.00" y2="136.00" stroke="#d8533f" stroke-width="1"/>
<rect x="665" y="126.70" width="3" height="4.10" fill="#d8533f"/>
<line x1="670.50" x2="670.50" y1="119.30" y2="140.70" stroke="#d8533f" stroke-width="1"/>
<rect x="669" y="130.80" width="3" height="9.00" fill="#d8533f"/>
<line x1="674.50" x2="674.50" y1="130.30" y2="141.60" stroke="#2f8c74" stroke-width="1"/>
<rect x="673" y="133.80" width="3" height="6.00" fill="#2f8c74"/>
<line x1="678.50" x2="678.50" y1="133.20" y2="136.80" stroke="#d8533f" stroke-width="1"/>
<rect x="677" y="134.60" width="3" height="2.20" fill="#d8533f"/>
<line x1="682.50" x2="682.50" y1="137.50" y2="168.70" stroke="#d8533f" stroke-width="1"/>
<rect x="681" y="137.50" width="3" height="18.10" fill="#d8533f"/>
<line x1="685.50" x2="685.50" y1="151.00" y2="161.80" stroke="#d8533f" stroke-width="1"/>
<rect x="684" y="155.60" width="3" height="5.10" fill="#d8533f"/>
<line x1="689.50" x2="689.50" y1="152.80" y2="172.40" stroke="#d8533f" stroke-width="1"/>
<rect x="688" y="160.30" width="3" height="5.20" fill="#d8533f"/>
<line x1="693.50" x2="693.50" y1="138.30" y2="166.80" stroke="#2f8c74" stroke-width="1"/>
<rect x="692" y="143.50" width="3" height="22.00" fill="#2f8c74"/>
<line x1="697.50" x2="697.50" y1="136.40" y2="146.90" stroke="#2f8c74" stroke-width="1"/>
<rect x="696" y="142.00" width="3" height="3.00" fill="#2f8c74"/>
<line x1="701.50" x2="701.50" y1="72.10" y2="142.50" stroke="#2f8c74" stroke-width="1"/>
<rect x="700" y="85.70" width="3" height="56.30" fill="#2f8c74"/>
<line x1="705.50" x2="705.50" y1="78.30" y2="100.70" stroke="#d8533f" stroke-width="1"/>
<rect x="704" y="84.30" width="3" height="11.10" fill="#d8533f"/>
<line x1="709.50" x2="709.50" y1="79.00" y2="105.90" stroke="#2f8c74" stroke-width="1"/>
<rect x="708" y="91.70" width="3" height="3.70" fill="#2f8c74"/>
<line x1="712.50" x2="712.50" y1="87.10" y2="110.80" stroke="#d8533f" stroke-width="1"/>
<rect x="711" y="89.90" width="3" height="13.70" fill="#d8533f"/>
<line x1="716.50" x2="716.50" y1="88.00" y2="104.40" stroke="#2f8c74" stroke-width="1"/>
<rect x="715" y="88.90" width="3" height="15.50" fill="#2f8c74"/>
<line x1="720.50" x2="720.50" y1="88.00" y2="99.40" stroke="#d8533f" stroke-width="1"/>
<rect x="719" y="88.90" width="3" height="6.50" fill="#d8533f"/>
<line x1="724.50" x2="724.50" y1="93.20" y2="101.40" stroke="#d8533f" stroke-width="1"/>
<rect x="723" y="95.40" width="3" height="3.60" fill="#d8533f"/>
<line x1="728.50" x2="728.50" y1="94.00" y2="109.60" stroke="#d8533f" stroke-width="1"/>
<rect x="727" y="97.50" width="3" height="10.70" fill="#d8533f"/>
<line x1="732.50" x2="732.50" y1="105.00" y2="120.40" stroke="#d8533f" stroke-width="1"/>
<rect x="731" y="107.60" width="3" height="1.90" fill="#d8533f"/>
<line x1="736.50" x2="736.50" y1="102.50" y2="116.70" stroke="#2f8c74" stroke-width="1"/>
<rect x="735" y="108.00" width="3" height="2.00" fill="#2f8c74"/>
<line x1="740.50" x2="740.50" y1="106.50" y2="115.50" stroke="#2f8c74" stroke-width="1"/>
<line x1="743.50" x2="743.50" y1="102.60" y2="108.20" stroke="#2f8c74" stroke-width="1"/>
<rect x="742" y="102.70" width="3" height="5.50" fill="#2f8c74"/>
<line x1="747.50" x2="747.50" y1="97.40" y2="110.80" stroke="#d8533f" stroke-width="1"/>
<rect x="746" y="102.60" width="3" height="6.00" fill="#d8533f"/>
<line x1="751.50" x2="751.50" y1="108.60" y2="119.80" stroke="#d8533f" stroke-width="1"/>
<rect x="750" y="108.60" width="3" height="4.60" fill="#d8533f"/>
<line x1="755.50" x2="755.50" y1="108.20" y2="117.90" stroke="#2f8c74" stroke-width="1"/>
<rect x="754" y="109.50" width="3" height="3.70" fill="#2f8c74"/>
<line x1="759.50" x2="759.50" y1="108.20" y2="114.60" stroke="#d8533f" stroke-width="1"/>
<rect x="758" y="109.50" width="3" height="2.80" fill="#d8533f"/>
<line x1="763.50" x2="763.50" y1="97.00" y2="117.00" stroke="#2f8c74" stroke-width="1"/>
<rect x="762" y="98.30" width="3" height="14.00" fill="#2f8c74"/>
<line x1="767.50" x2="767.50" y1="89.60" y2="103.90" stroke="#d8533f" stroke-width="1"/>
<line x1="771.50" x2="771.50" y1="96.50" y2="111.40" stroke="#d8533f" stroke-width="1"/>
<rect x="770" y="101.10" width="3" height="10.30" fill="#d8533f"/>
<line x1="774.50" x2="774.50" y1="104.50" y2="111.40" stroke="#2f8c74" stroke-width="1"/>
<rect x="773" y="107.60" width="3" height="3.80" fill="#2f8c74"/>
<line x1="778.50" x2="778.50" y1="107.10" y2="124.40" stroke="#d8533f" stroke-width="1"/>
<rect x="777" y="108.60" width="3" height="12.10" fill="#d8533f"/>
<line x1="782.50" x2="782.50" y1="120.70" y2="129.50" stroke="#d8533f" stroke-width="1"/>
<rect x="781" y="120.70" width="3" height="1.90" fill="#d8533f"/>
<line x1="786.50" x2="786.50" y1="107.10" y2="121.30" stroke="#2f8c74" stroke-width="1"/>
<rect x="785" y="109.50" width="3" height="11.80" fill="#2f8c74"/>
<line x1="790.50" x2="790.50" y1="106.30" y2="115.70" stroke="#d8533f" stroke-width="1"/>
<rect x="789" y="109.50" width="3" height="4.70" fill="#d8533f"/>
<line x1="794.50" x2="794.50" y1="113.30" y2="124.40" stroke="#d8533f" stroke-width="1"/>
<rect x="793" y="114.20" width="3" height="5.90" fill="#d8533f"/>
<line x1="798.50" x2="798.50" y1="117.50" y2="120.10" stroke="#d8533f" stroke-width="1"/>
<line x1="801.50" x2="801.50" y1="120.70" y2="137.50" stroke="#d8533f" stroke-width="1"/>
<rect x="800" y="120.70" width="3" height="13.60" fill="#d8533f"/>
<line x1="805.50" x2="805.50" y1="130.60" y2="143.70" stroke="#2f8c74" stroke-width="1"/>
<rect x="804" y="130.60" width="3" height="4.50" fill="#2f8c74"/>
<line x1="809.50" x2="809.50" y1="127.60" y2="133.20" stroke="#2f8c74" stroke-width="1"/>
<line x1="813.50" x2="813.50" y1="124.40" y2="130.60" stroke="#2f8c74" stroke-width="1"/>
<rect x="812" y="126.90" width="3" height="2.20" fill="#2f8c74"/>
<line x1="817.50" x2="817.50" y1="125.70" y2="131.90" stroke="#2f8c74" stroke-width="1"/>
<line x1="821.50" x2="821.50" y1="125.40" y2="133.20" stroke="#2f8c74" stroke-width="1"/>
<line x1="825.50" x2="825.50" y1="119.40" y2="127.20" stroke="#2f8c74" stroke-width="1"/>
<line x1="829.50" x2="829.50" y1="125.40" y2="132.50" stroke="#d8533f" stroke-width="1"/>
<line x1="832.50" x2="832.50" y1="125.40" y2="131.20" stroke="#d8533f" stroke-width="1"/>
<rect x="831" y="126.20" width="3" height="1.40" fill="#d8533f"/>
<line x1="836.50" x2="836.50" y1="123.30" y2="131.30" stroke="#d8533f" stroke-width="1"/>
<rect x="835" y="126.10" width="3" height="2.60" fill="#d8533f"/>
<line x1="840.50" x2="840.50" y1="128.50" y2="141.30" stroke="#d8533f" stroke-width="1"/>
<rect x="839" y="129.30" width="3" height="1.70" fill="#d8533f"/>
<line x1="844.50" x2="844.50" y1="112.00" y2="129.60" stroke="#2f8c74" stroke-width="1"/>
<rect x="843" y="120.80" width="3" height="8.80" fill="#2f8c74"/>
<line x1="848.50" x2="848.50" y1="116.10" y2="127.30" stroke="#d8533f" stroke-width="1"/>
<rect x="847" y="119.90" width="3" height="4.60" fill="#d8533f"/>
<line x1="852.50" x2="852.50" y1="113.30" y2="129.20" stroke="#2f8c74" stroke-width="1"/>
<rect x="851" y="115.20" width="3" height="9.30" fill="#2f8c74"/>
<line x1="856.50" x2="856.50" y1="112.40" y2="129.50" stroke="#d8533f" stroke-width="1"/>
<rect x="855" y="115.20" width="3" height="13.60" fill="#d8533f"/>
<line x1="860.50" x2="860.50" y1="125.10" y2="130.70" stroke="#2f8c74" stroke-width="1"/>
<rect x="859" y="126.40" width="3" height="2.00" fill="#2f8c74"/>
<line x1="863.50" x2="863.50" y1="124.00" y2="129.20" stroke="#d8533f" stroke-width="1"/>
<rect x="862" y="125.10" width="3" height="1.80" fill="#d8533f"/>
<line x1="867.50" x2="867.50" y1="127.30" y2="134.40" stroke="#d8533f" stroke-width="1"/>
<rect x="866" y="127.30" width="3" height="7.10" fill="#d8533f"/>
<line x1="871.50" x2="871.50" y1="132.50" y2="139.40" stroke="#d8533f" stroke-width="1"/>
<rect x="870" y="133.80" width="3" height="1.90" fill="#d8533f"/>
<line x1="875.50" x2="875.50" y1="133.90" y2="139.40" stroke="#d8533f" stroke-width="1"/>
<rect x="874" y="135.10" width="3" height="1.50" fill="#d8533f"/>
<line x1="879.50" x2="879.50" y1="135.70" y2="145.00" stroke="#d8533f" stroke-width="1"/>
<rect x="878" y="137.00" width="3" height="4.90" fill="#d8533f"/>
<line x1="883.50" x2="883.50" y1="126.90" y2="141.30" stroke="#2f8c74" stroke-width="1"/>
<rect x="882" y="128.20" width="3" height="13.10" fill="#2f8c74"/>
<line x1="887.50" x2="887.50" y1="129.20" y2="140.40" stroke="#d8533f" stroke-width="1"/>
<rect x="886" y="129.20" width="3" height="9.30" fill="#d8533f"/>
<line x1="891.50" x2="891.50" y1="132.50" y2="138.90" stroke="#d8533f" stroke-width="1"/>
<rect x="890" y="136.30" width="3" height="2.60" fill="#d8533f"/>
<line x1="894.50" x2="894.50" y1="137.00" y2="149.70" stroke="#d8533f" stroke-width="1"/>
<rect x="893" y="138.90" width="3" height="4.80" fill="#d8533f"/>
<line x1="898.50" x2="898.50" y1="142.60" y2="152.50" stroke="#d8533f" stroke-width="1"/>
<rect x="897" y="142.60" width="3" height="8.00" fill="#d8533f"/>
<line x1="902.50" x2="902.50" y1="146.60" y2="151.60" stroke="#2f8c74" stroke-width="1"/>
<rect x="901" y="149.00" width="3" height="1.40" fill="#2f8c74"/>
<line x1="906.50" x2="906.50" y1="139.50" y2="153.50" stroke="#2f8c74" stroke-width="1"/>
<rect x="905" y="141.30" width="3" height="8.50" fill="#2f8c74"/>
<line x1="910.50" x2="910.50" y1="123.50" y2="152.20" stroke="#2f8c74" stroke-width="1"/>
<rect x="909" y="132.40" width="3" height="9.40" fill="#2f8c74"/>
<line x1="914.50" x2="914.50" y1="132.40" y2="138.60" stroke="#d8533f" stroke-width="1"/>
<rect x="913" y="132.40" width="3" height="2.70" fill="#d8533f"/>
<line x1="918.50" x2="918.50" y1="136.40" y2="153.80" stroke="#d8533f" stroke-width="1"/>
<rect x="917" y="136.40" width="3" height="14.90" fill="#d8533f"/>
<line x1="921.50" x2="921.50" y1="144.00" y2="152.50" stroke="#2f8c74" stroke-width="1"/>
<rect x="920" y="145.70" width="3" height="5.80" fill="#2f8c74"/>
<line x1="925.50" x2="925.50" y1="146.90" y2="150.60" stroke="#d8533f" stroke-width="1"/>
<rect x="924" y="146.90" width="3" height="1.60" fill="#d8533f"/>
<line x1="929.50" x2="929.50" y1="144.20" y2="150.60" stroke="#2f8c74" stroke-width="1"/>
<rect x="928" y="146.00" width="3" height="2.80" fill="#2f8c74"/>
<line x1="933.50" x2="933.50" y1="134.00" y2="147.60" stroke="#2f8c74" stroke-width="1"/>
<rect x="932" y="142.60" width="3" height="3.70" fill="#2f8c74"/>
<line x1="937.50" x2="937.50" y1="129.40" y2="145.40" stroke="#d8533f" stroke-width="1"/>
<rect x="936" y="142.60" width="3" height="2.10" fill="#d8533f"/>
<line x1="941.50" x2="941.50" y1="137.60" y2="146.40" stroke="#2f8c74" stroke-width="1"/>
<rect x="940" y="139.90" width="3" height="5.20" fill="#2f8c74"/>
<line x1="945.50" x2="945.50" y1="137.10" y2="144.50" stroke="#2f8c74" stroke-width="1"/>
<rect x="944" y="138.00" width="3" height="1.50" fill="#2f8c74"/>
<line x1="949.50" x2="949.50" y1="138.00" y2="154.40" stroke="#d8533f" stroke-width="1"/>
<rect x="948" y="138.90" width="3" height="15.50" fill="#d8533f"/>
<line x1="952.50" x2="952.50" y1="149.20" y2="169.70" stroke="#d8533f" stroke-width="1"/>
<rect x="951" y="153.30" width="3" height="11.70" fill="#d8533f"/>
<line x1="956.50" x2="956.50" y1="163.70" y2="298.70" stroke="#d8533f" stroke-width="1"/>
<rect x="955" y="165.00" width="3" height="88.00" fill="#d8533f"/>
<line x1="960.50" x2="960.50" y1="247.40" y2="288.40" stroke="#d8533f" stroke-width="1"/>
<rect x="959" y="253.00" width="3" height="18.30" fill="#d8533f"/>
<line x1="964.50" x2="964.50" y1="258.60" y2="275.40" stroke="#2f8c74" stroke-width="1"/>
<rect x="963" y="265.10" width="3" height="6.20" fill="#2f8c74"/>
<line x1="968.50" x2="968.50" y1="251.50" y2="267.50" stroke="#2f8c74" stroke-width="1"/>
<rect x="967" y="256.30" width="3" height="9.70" fill="#2f8c74"/>
<line x1="972.50" x2="972.50" y1="244.60" y2="264.20" stroke="#2f8c74" stroke-width="1"/>
<rect x="971" y="245.90" width="3" height="10.40" fill="#2f8c74"/>
<line x1="976.50" x2="976.50" y1="246.00" y2="253.40" stroke="#d8533f" stroke-width="1"/>
<rect x="975" y="246.50" width="3" height="6.90" fill="#d8533f"/>
<line x1="980.50" x2="980.50" y1="253.00" y2="266.40" stroke="#d8533f" stroke-width="1"/>
<rect x="979" y="253.90" width="3" height="9.30" fill="#d8533f"/>
<line x1="983.50" x2="983.50" y1="261.40" y2="267.50" stroke="#d8533f" stroke-width="1"/>
<rect x="982" y="263.20" width="3" height="1.40" fill="#d8533f"/>
<line x1="987.50" x2="987.50" y1="261.40" y2="281.30" stroke="#d8533f" stroke-width="1"/>
<rect x="986" y="264.20" width="3" height="10.20" fill="#d8533f"/>
<line x1="991.50" x2="991.50" y1="270.70" y2="285.60" stroke="#d8533f" stroke-width="1"/>
<line x1="995.50" x2="995.50" y1="267.50" y2="276.30" stroke="#2f8c74" stroke-width="1"/>
<rect x="994" y="269.40" width="3" height="5.00" fill="#2f8c74"/>
<line x1="999.50" x2="999.50" y1="269.40" y2="281.30" stroke="#d8533f" stroke-width="1"/>
<rect x="998" y="269.40" width="3" height="8.80" fill="#d8533f"/>
<line x1="1003.50" x2="1003.50" y1="276.30" y2="292.50" stroke="#d8533f" stroke-width="1"/>
<rect x="1002" y="278.20" width="3" height="7.40" fill="#d8533f"/>
<line x1="1007.50" x2="1007.50" y1="282.80" y2="304.30" stroke="#d8533f" stroke-width="1"/>
<rect x="1006" y="284.70" width="3" height="6.00" fill="#d8533f"/>
<line x1="1010.50" x2="1010.50" y1="284.30" y2="295.50" stroke="#d8533f" stroke-width="1"/>
<rect x="1009" y="291.20" width="3" height="4.30" fill="#d8533f"/>
<line x1="1014.50" x2="1014.50" y1="282.50" y2="296.80" stroke="#2f8c74" stroke-width="1"/>
<rect x="1013" y="288.10" width="3" height="8.70" fill="#2f8c74"/>
<line x1="1018.50" x2="1018.50" y1="288.10" y2="292.20" stroke="#d8533f" stroke-width="1"/>
<rect x="1017" y="288.10" width="3" height="2.60" fill="#d8533f"/>
<line x1="1022.50" x2="1022.50" y1="282.50" y2="291.80" stroke="#2f8c74" stroke-width="1"/>
<rect x="1021" y="288.40" width="3" height="2.30" fill="#2f8c74"/>
<line x1="1026.50" x2="1026.50" y1="285.10" y2="295.90" stroke="#2f8c74" stroke-width="1"/>
<path d="M1.0 74.3 C2.6 75.0 6.4 76.9 10.0 78.0 C13.6 79.1 15.4 79.3 21.0 80.5 C26.6 81.7 33.1 83.6 41.0 84.5 C48.9 85.4 57.6 85.8 65.0 85.7 C72.4 85.6 76.1 84.6 82.0 83.7 C87.9 82.8 92.2 81.4 98.0 80.6 C103.8 79.8 107.7 79.6 114.0 79.3 C120.3 79.0 126.2 78.9 133.0 78.7 C139.8 78.5 145.2 78.4 152.0 78.3 C158.8 78.2 162.4 78.6 171.0 78.2 C179.6 77.8 191.5 76.7 200.0 76.3 C208.5 75.9 209.7 75.9 218.0 75.9 C226.3 75.9 237.6 76.1 246.0 76.4 C254.4 76.7 257.9 77.0 264.6 77.7 C271.3 78.4 277.3 79.7 283.0 80.5 C288.7 81.3 287.9 82.2 296.0 82.4 C304.1 82.6 312.9 81.7 328.0 81.6 C343.1 81.5 367.8 81.2 380.0 81.6 C392.2 82.0 388.1 82.4 396.0 83.9 C403.9 85.4 413.9 88.0 424.0 89.9 C434.1 91.8 443.6 93.0 452.0 94.5 C460.4 96.0 464.6 97.1 470.6 98.2 C476.6 99.3 479.8 100.0 485.5 100.7 C491.2 101.4 495.8 101.7 502.0 102.0 C508.2 102.3 511.7 101.8 520.0 102.6 C528.3 103.4 539.6 105.1 548.0 106.3 C556.4 107.5 561.4 108.7 566.6 109.5 C571.8 110.3 571.3 110.3 577.0 111.0 C582.7 111.7 591.2 112.5 598.0 113.2 C604.8 113.9 608.5 114.2 615.0 114.9 C621.5 115.6 628.4 116.7 634.0 117.1 C639.6 117.5 642.3 117.3 646.0 117.1 C649.7 116.9 649.8 116.4 654.7 115.9 C659.6 115.5 665.6 114.8 673.3 114.6 C681.0 114.4 689.2 114.9 697.6 114.6 C706.0 114.3 712.0 113.2 720.0 112.7 C728.0 112.2 735.8 111.9 742.0 111.6 C748.2 111.3 749.1 111.0 754.7 110.8 C760.3 110.6 766.6 110.4 773.3 110.4 C780.0 110.4 785.3 110.5 792.0 110.8 C798.7 111.1 803.9 111.6 810.6 111.9 C817.3 112.2 823.6 112.1 829.3 112.3 C835.0 112.5 837.1 112.8 842.0 113.0 C846.9 113.2 849.7 112.6 856.3 113.3 C862.9 114.0 870.7 115.9 878.6 117.1 C886.5 118.3 892.8 118.9 900.0 119.9 C907.2 120.9 913.3 122.0 918.7 122.7 C924.1 123.4 926.3 123.6 930.0 123.9 C933.7 124.2 935.9 124.2 939.3 124.3 C942.7 124.4 946.8 124.5 949.0 124.6 C951.2 124.7 950.9 124.6 951.6 124.7 C952.3 124.8 952.3 124.8 952.8 124.9 C953.3 125.0 951.6 124.5 954.2 125.4 C956.8 126.3 960.9 127.7 967.3 130.0 C973.7 132.3 983.0 135.4 990.0 138.0 C997.0 140.6 999.4 141.5 1006.0 144.2 C1012.6 146.9 1022.7 151.4 1026.4 153.0" fill="none" stroke="#ea7018" stroke-width="1.15" stroke-linejoin="round" stroke-linecap="round" />
<path d="M1.0 105.5 C5.3 104.8 16.1 103.3 25.0 101.5 C33.9 99.7 41.9 97.5 50.6 95.5 C59.3 93.5 67.0 92.1 73.4 90.3 C79.8 88.5 81.6 87.4 86.0 85.5 C90.4 83.6 92.8 82.2 97.9 80.0 C103.0 77.8 107.9 76.1 114.2 73.5 C120.5 70.9 126.2 68.6 133.0 65.7 C139.8 62.8 145.2 60.2 152.0 57.3 C158.8 54.4 165.6 51.7 170.6 49.8 C175.6 47.9 177.0 47.5 180.0 46.8 C183.0 46.1 184.7 45.8 187.0 45.7 C189.3 45.6 190.7 45.9 193.0 46.5 C195.3 47.1 196.0 47.9 200.0 48.9 C204.0 49.9 208.7 50.6 215.0 52.0 C221.3 53.4 228.4 55.1 235.0 56.5 C241.6 57.9 246.3 58.6 251.6 60.0 C256.9 61.4 260.6 62.6 264.6 64.1 C268.6 65.6 270.7 66.5 274.0 68.4 C277.3 70.3 279.0 71.9 283.0 74.9 C287.0 77.9 292.9 82.8 296.0 85.2 C299.1 87.6 294.2 86.0 300.0 88.3 C305.8 90.6 317.9 94.1 328.0 98.0 C338.1 101.9 348.6 107.1 356.0 110.1 C363.4 113.1 364.0 113.5 369.0 114.8 C374.0 116.1 379.1 116.9 384.0 117.6 C388.9 118.3 390.5 118.1 396.0 118.8 C401.5 119.5 408.0 120.4 414.7 121.6 C421.4 122.8 426.6 125.0 433.3 125.7 C440.0 126.4 445.3 126.2 452.0 125.7 C458.7 125.2 464.6 124.8 470.6 123.1 C476.6 121.4 481.6 117.5 485.5 116.0 C489.4 114.5 487.5 115.8 492.0 114.7 C496.5 113.6 504.0 111.7 510.7 110.0 C517.4 108.3 523.9 106.3 529.3 105.0 C534.7 103.7 534.8 103.0 540.5 102.6 C546.2 102.2 554.6 102.3 561.0 102.6 C567.4 102.9 569.3 103.7 576.0 104.4 C582.7 105.1 591.0 105.8 598.0 106.3 C605.0 106.8 608.2 106.7 615.0 107.0 C621.8 107.3 628.9 107.7 636.0 107.7 C643.1 107.7 649.7 107.1 654.7 107.1 C659.7 107.1 659.0 106.5 664.0 107.7 C669.0 108.9 676.6 111.7 682.6 113.7 C688.6 115.7 692.6 117.7 697.6 118.9 C702.6 120.1 704.9 119.9 710.6 120.2 C716.3 120.5 723.6 120.6 729.3 120.7 C735.0 120.8 737.4 120.9 742.0 120.7 C746.6 120.5 749.1 120.2 754.7 119.4 C760.3 118.6 766.6 117.0 773.3 116.4 C780.0 115.8 785.3 115.9 792.0 116.0 C798.7 116.1 803.9 116.8 810.6 117.0 C817.3 117.2 823.6 116.7 829.3 117.0 C835.0 117.3 838.1 118.5 842.0 118.8 C845.9 119.1 845.8 118.9 850.7 118.9 C855.6 118.9 861.9 119.1 869.3 118.9 C876.7 118.7 885.0 117.1 891.7 117.6 C898.4 118.1 901.7 120.4 906.6 121.7 C911.5 123.0 914.5 123.7 918.7 124.6 C922.9 125.5 926.3 125.9 930.0 126.6 C933.7 127.3 936.0 128.0 939.3 128.6 C942.6 129.2 946.4 129.6 948.6 130.0 C950.8 130.4 950.7 130.4 951.4 130.6 C952.1 130.8 952.1 130.8 952.6 131.1 C953.1 131.4 951.7 130.3 954.0 132.1 C956.3 133.9 961.2 137.8 965.3 140.9 C969.4 144.1 973.2 147.0 976.6 149.6 C980.0 152.2 978.7 151.3 984.0 155.4 C989.3 159.5 998.4 166.3 1006.0 172.5 C1013.6 178.7 1022.7 186.8 1026.4 190.0" fill="none" stroke="#2242f0" stroke-width="1.15" stroke-linejoin="round" stroke-linecap="round" />
</g>
<line x1="2.0" x2="1064.5" y1="288.3" y2="288.3" stroke="#2c476b" stroke-width="1.2"/>
<rect x="13.7" y="259.9" width="117.3" height="39" fill="#ffffff"/>
<g clip-path="url(#cd)">
<rect x="-1" y="326.05" width="3" height="3.55" fill="#20e820" fill-opacity="1.00"/>
<rect x="3" y="326.29" width="3" height="3.31" fill="#20e820" fill-opacity="1.00"/>
<rect x="7" y="326.52" width="3" height="3.08" fill="#20e820" fill-opacity="1.00"/>
<rect x="11" y="326.80" width="3" height="2.80" fill="#20e820" fill-opacity="1.00"/>
<rect x="15" y="327.11" width="3" height="2.49" fill="#20e820" fill-opacity="1.00"/>
<rect x="19" y="327.42" width="3" height="2.18" fill="#20e820" fill-opacity="1.00"/>
<rect x="23" y="327.69" width="3" height="1.91" fill="#20e820" fill-opacity="1.00"/>
<rect x="26" y="327.96" width="3" height="1.64" fill="#20e820" fill-opacity="1.00"/>
<rect x="30" y="328.23" width="3" height="1.37" fill="#20e820" fill-opacity="1.00"/>
<rect x="34" y="328.51" width="3" height="1.09" fill="#20e820" fill-opacity="1.00"/>
<rect x="38" y="328.79" width="3" height="0.81" fill="#20e820" fill-opacity="0.98"/>
<rect x="42" y="329.00" width="3" height="0.60" fill="#20e820" fill-opacity="0.73"/>
<rect x="46" y="329.00" width="3" height="0.60" fill="#20e820" fill-opacity="0.63"/>
<rect x="50" y="329.00" width="3" height="0.60" fill="#20e820" fill-opacity="0.56"/>
<rect x="54" y="329.00" width="3" height="0.60" fill="#20e820" fill-opacity="0.48"/>
<rect x="57" y="329.00" width="3" height="0.60" fill="#20e820" fill-opacity="0.41"/>
<rect x="61" y="329.00" width="3" height="0.60" fill="#20e820" fill-opacity="0.34"/>
<rect x="73" y="329.4" width="3" height="0.60" fill="#ff0000" fill-opacity="0.34"/>
<rect x="77" y="329.4" width="3" height="0.60" fill="#ff0000" fill-opacity="0.40"/>
<rect x="81" y="329.4" width="3" height="0.60" fill="#ff0000" fill-opacity="0.44"/>
<rect x="85" y="329.4" width="3" height="0.60" fill="#ff0000" fill-opacity="0.45"/>
<rect x="88" y="329.4" width="3" height="0.60" fill="#ff0000" fill-opacity="0.46"/>
<rect x="92" y="329.4" width="3" height="0.60" fill="#ff0000" fill-opacity="0.47"/>
<rect x="96" y="329.4" width="3" height="0.60" fill="#ff0000" fill-opacity="0.48"/>
<rect x="100" y="329.4" width="3" height="0.60" fill="#ff0000" fill-opacity="0.50"/>
<rect x="104" y="329.4" width="3" height="0.60" fill="#ff0000" fill-opacity="0.51"/>
<rect x="108" y="329.4" width="3" height="0.60" fill="#ff0000" fill-opacity="0.58"/>
<rect x="112" y="329.4" width="3" height="1.40" fill="#ff0000" fill-opacity="1.00"/>
<rect x="116" y="329.4" width="3" height="1.47" fill="#ff0000" fill-opacity="1.00"/>
<rect x="119" y="329.4" width="3" height="1.54" fill="#ff0000" fill-opacity="1.00"/>
<rect x="123" y="329.4" width="3" height="1.61" fill="#ff0000" fill-opacity="1.00"/>
<rect x="127" y="329.4" width="3" height="1.68" fill="#ff0000" fill-opacity="1.00"/>
<rect x="131" y="329.4" width="3" height="1.70" fill="#ff0000" fill-opacity="1.00"/>
<rect x="135" y="329.4" width="3" height="1.69" fill="#ff0000" fill-opacity="1.00"/>
<rect x="139" y="329.4" width="3" height="1.68" fill="#ff0000" fill-opacity="1.00"/>
<rect x="143" y="329.4" width="3" height="1.68" fill="#ff0000" fill-opacity="1.00"/>
<rect x="146" y="329.4" width="3" height="1.67" fill="#ff0000" fill-opacity="1.00"/>
<rect x="150" y="329.4" width="3" height="1.66" fill="#ff0000" fill-opacity="1.00"/>
<rect x="154" y="329.4" width="3" height="1.66" fill="#ff0000" fill-opacity="1.00"/>
<rect x="158" y="329.4" width="3" height="1.65" fill="#ff0000" fill-opacity="1.00"/>
<rect x="162" y="329.4" width="3" height="1.64" fill="#ff0000" fill-opacity="1.00"/>
<rect x="166" y="329.4" width="3" height="1.64" fill="#ff0000" fill-opacity="1.00"/>
<rect x="170" y="329.4" width="3" height="1.63" fill="#ff0000" fill-opacity="1.00"/>
<rect x="174" y="329.4" width="3" height="1.62" fill="#ff0000" fill-opacity="1.00"/>
<rect x="177" y="329.4" width="3" height="1.62" fill="#ff0000" fill-opacity="1.00"/>
<rect x="181" y="329.4" width="3" height="1.61" fill="#ff0000" fill-opacity="1.00"/>
<rect x="185" y="329.4" width="3" height="1.61" fill="#ff0000" fill-opacity="1.00"/>
<rect x="189" y="329.4" width="3" height="1.60" fill="#ff0000" fill-opacity="1.00"/>
<rect x="193" y="329.4" width="3" height="1.56" fill="#ff0000" fill-opacity="1.00"/>
<rect x="197" y="329.4" width="3" height="1.52" fill="#ff0000" fill-opacity="1.00"/>
<rect x="201" y="329.4" width="3" height="1.49" fill="#ff0000" fill-opacity="1.00"/>
<rect x="205" y="329.4" width="3" height="1.45" fill="#ff0000" fill-opacity="1.00"/>
<rect x="208" y="329.4" width="3" height="1.42" fill="#ff0000" fill-opacity="1.00"/>
<rect x="212" y="329.4" width="3" height="1.08" fill="#ff0000" fill-opacity="1.00"/>
<rect x="216" y="329.4" width="3" height="0.60" fill="#ff0000" fill-opacity="0.58"/>
<rect x="220" y="329.00" width="3" height="0.60" fill="#20e820" fill-opacity="0.48"/>
<rect x="224" y="329.00" width="3" height="0.60" fill="#20e820" fill-opacity="0.72"/>
<rect x="228" y="329.00" width="3" height="0.60" fill="#20e820" fill-opacity="0.77"/>
<rect x="232" y="328.98" width="3" height="0.62" fill="#20e820" fill-opacity="0.81"/>
<rect x="235" y="328.94" width="3" height="0.66" fill="#20e820" fill-opacity="0.85"/>
<rect x="239" y="328.95" width="3" height="0.65" fill="#20e820" fill-opacity="0.84"/>
<rect x="243" y="329.00" width="3" height="0.60" fill="#20e820" fill-opacity="0.64"/>
<rect x="247" y="329.00" width="3" height="0.60" fill="#20e820" fill-opacity="0.45"/>
<rect x="251" y="329.4" width="3" height="0.62" fill="#ff0000" fill-opacity="0.81"/>
<rect x="255" y="329.4" width="3" height="0.77" fill="#ff0000" fill-opacity="0.94"/>
<rect x="259" y="329.4" width="3" height="0.92" fill="#ff0000" fill-opacity="1.00"/>
<rect x="263" y="329.4" width="3" height="1.07" fill="#ff0000" fill-opacity="1.00"/>
<rect x="266" y="329.4" width="3" height="1.22" fill="#ff0000" fill-opacity="1.00"/>
<rect x="270" y="329.4" width="3" height="1.37" fill="#ff0000" fill-opacity="1.00"/>
<rect x="274" y="329.4" width="3" height="1.53" fill="#ff0000" fill-opacity="1.00"/>
<rect x="278" y="329.4" width="3" height="1.69" fill="#ff0000" fill-opacity="1.00"/>
<rect x="282" y="329.4" width="3" height="1.85" fill="#ff0000" fill-opacity="1.00"/>
<rect x="286" y="329.4" width="3" height="2.00" fill="#ff0000" fill-opacity="1.00"/>
<rect x="290" y="329.4" width="3" height="2.00" fill="#ff0000" fill-opacity="1.00"/>
<rect x="294" y="329.4" width="3" height="2.00" fill="#ff0000" fill-opacity="1.00"/>
<rect x="297" y="329.4" width="3" height="0.60" fill="#ff0000" fill-opacity="0.75"/>
<rect x="301" y="328.34" width="3" height="1.26" fill="#20e820" fill-opacity="1.00"/>
<rect x="305" y="328.03" width="3" height="1.57" fill="#20e820" fill-opacity="1.00"/>
<rect x="309" y="327.72" width="3" height="1.88" fill="#20e820" fill-opacity="1.00"/>
<rect x="313" y="327.66" width="3" height="1.94" fill="#20e820" fill-opacity="1.00"/>
<rect x="317" y="327.76" width="3" height="1.84" fill="#20e820" fill-opacity="1.00"/>
<rect x="321" y="327.92" width="3" height="1.68" fill="#20e820" fill-opacity="1.00"/>
<rect x="324" y="328.13" width="3" height="1.47" fill="#20e820" fill-opacity="1.00"/>
<rect x="328" y="328.35" width="3" height="1.25" fill="#20e820" fill-opacity="1.00"/>
<rect x="332" y="328.56" width="3" height="1.04" fill="#20e820" fill-opacity="1.00"/>
<rect x="336" y="328.78" width="3" height="0.82" fill="#20e820" fill-opacity="0.99"/>
<rect x="340" y="328.78" width="3" height="0.82" fill="#20e820" fill-opacity="0.98"/>
<rect x="344" y="328.77" width="3" height="0.83" fill="#20e820" fill-opacity="1.00"/>
<rect x="348" y="328.75" width="3" height="0.85" fill="#20e820" fill-opacity="1.00"/>
<rect x="352" y="328.73" width="3" height="0.87" fill="#20e820" fill-opacity="1.00"/>
<rect x="355" y="328.71" width="3" height="0.89" fill="#20e820" fill-opacity="1.00"/>
<rect x="359" y="328.69" width="3" height="0.91" fill="#20e820" fill-opacity="1.00"/>
<rect x="363" y="328.63" width="3" height="0.97" fill="#20e820" fill-opacity="1.00"/>
<rect x="367" y="328.57" width="3" height="1.03" fill="#20e820" fill-opacity="1.00"/>
<rect x="371" y="328.51" width="3" height="1.09" fill="#20e820" fill-opacity="1.00"/>
<rect x="375" y="328.46" width="3" height="1.14" fill="#20e820" fill-opacity="1.00"/>
<rect x="379" y="328.40" width="3" height="1.20" fill="#20e820" fill-opacity="1.00"/>
<rect x="383" y="328.44" width="3" height="1.16" fill="#20e820" fill-opacity="1.00"/>
<rect x="386" y="328.48" width="3" height="1.12" fill="#20e820" fill-opacity="1.00"/>
<rect x="390" y="328.52" width="3" height="1.08" fill="#20e820" fill-opacity="1.00"/>
<rect x="394" y="328.56" width="3" height="1.04" fill="#20e820" fill-opacity="1.00"/>
<rect x="398" y="328.60" width="3" height="1.00" fill="#20e820" fill-opacity="1.00"/>
<rect x="402" y="328.68" width="3" height="0.92" fill="#20e820" fill-opacity="1.00"/>
<rect x="406" y="328.78" width="3" height="0.82" fill="#20e820" fill-opacity="0.99"/>
<rect x="410" y="328.88" width="3" height="0.72" fill="#20e820" fill-opacity="0.90"/>
<rect x="413" y="328.97" width="3" height="0.63" fill="#20e820" fill-opacity="0.81"/>
<rect x="417" y="329.00" width="3" height="0.60" fill="#20e820" fill-opacity="0.73"/>
<rect x="421" y="329.00" width="3" height="0.60" fill="#20e820" fill-opacity="0.66"/>
<rect x="425" y="329.00" width="3" height="0.60" fill="#20e820" fill-opacity="0.61"/>
<rect x="429" y="329.00" width="3" height="0.60" fill="#20e820" fill-opacity="0.56"/>
<rect x="433" y="329.00" width="3" height="0.60" fill="#20e820" fill-opacity="0.51"/>
<rect x="437" y="329.00" width="3" height="0.60" fill="#20e820" fill-opacity="0.45"/>
<rect x="441" y="329.00" width="3" height="0.60" fill="#20e820" fill-opacity="0.44"/>
<rect x="444" y="329.00" width="3" height="0.60" fill="#20e820" fill-opacity="0.46"/>
<rect x="448" y="329.00" width="3" height="0.60" fill="#20e820" fill-opacity="0.47"/>
<rect x="452" y="329.00" width="3" height="0.60" fill="#20e820" fill-opacity="0.49"/>
<rect x="456" y="329.00" width="3" height="0.60" fill="#20e820" fill-opacity="0.51"/>
<rect x="460" y="329.00" width="3" height="0.60" fill="#20e820" fill-opacity="0.64"/>
<rect x="464" y="328.82" width="3" height="0.78" fill="#20e820" fill-opacity="0.95"/>
<rect x="468" y="328.47" width="3" height="1.13" fill="#20e820" fill-opacity="1.00"/>
<rect x="472" y="328.32" width="3" height="1.28" fill="#20e820" fill-opacity="1.00"/>
<rect x="475" y="328.22" width="3" height="1.38" fill="#20e820" fill-opacity="1.00"/>
<rect x="479" y="328.11" width="3" height="1.49" fill="#20e820" fill-opacity="1.00"/>
<rect x="483" y="328.01" width="3" height="1.59" fill="#20e820" fill-opacity="1.00"/>
<rect x="487" y="328.11" width="3" height="1.49" fill="#20e820" fill-opacity="1.00"/>
<rect x="491" y="328.23" width="3" height="1.37" fill="#20e820" fill-opacity="1.00"/>
<rect x="495" y="328.35" width="3" height="1.25" fill="#20e820" fill-opacity="1.00"/>
<rect x="499" y="328.52" width="3" height="1.08" fill="#20e820" fill-opacity="1.00"/>
<rect x="502" y="328.75" width="3" height="0.85" fill="#20e820" fill-opacity="1.00"/>
<rect x="506" y="328.98" width="3" height="0.62" fill="#20e820" fill-opacity="0.81"/>
<rect x="510" y="329.00" width="3" height="0.60" fill="#20e820" fill-opacity="0.64"/>
<rect x="514" y="329.00" width="3" height="0.60" fill="#20e820" fill-opacity="0.52"/>
<rect x="518" y="329.00" width="3" height="0.60" fill="#20e820" fill-opacity="0.39"/>
<rect x="522" y="329.4" width="3" height="0.60" fill="#ff0000" fill-opacity="0.65"/>
<rect x="526" y="329.4" width="3" height="0.72" fill="#ff0000" fill-opacity="0.90"/>
<rect x="530" y="329.4" width="3" height="0.87" fill="#ff0000" fill-opacity="1.00"/>
<rect x="533" y="329.4" width="3" height="1.01" fill="#ff0000" fill-opacity="1.00"/>
<rect x="537" y="329.4" width="3" height="1.16" fill="#ff0000" fill-opacity="1.00"/>
<rect x="541" y="329.4" width="3" height="1.38" fill="#ff0000" fill-opacity="1.00"/>
<rect x="545" y="329.4" width="3" height="1.64" fill="#ff0000" fill-opacity="1.00"/>
<rect x="549" y="329.4" width="3" height="1.90" fill="#ff0000" fill-opacity="1.00"/>
<rect x="553" y="329.4" width="3" height="2.00" fill="#ff0000" fill-opacity="1.00"/>
<rect x="557" y="329.4" width="3" height="2.00" fill="#ff0000" fill-opacity="1.00"/>
<rect x="561" y="329.4" width="3" height="2.00" fill="#ff0000" fill-opacity="1.00"/>
<rect x="564" y="329.4" width="3" height="2.00" fill="#ff0000" fill-opacity="1.00"/>
<rect x="568" y="329.4" width="3" height="2.00" fill="#ff0000" fill-opacity="1.00"/>
<rect x="572" y="329.4" width="3" height="2.00" fill="#ff0000" fill-opacity="1.00"/>
<rect x="576" y="329.4" width="3" height="1.77" fill="#ff0000" fill-opacity="1.00"/>
<rect x="580" y="329.4" width="3" height="1.41" fill="#ff0000" fill-opacity="1.00"/>
<rect x="584" y="329.4" width="3" height="1.05" fill="#ff0000" fill-opacity="1.00"/>
<rect x="588" y="329.4" width="3" height="0.72" fill="#ff0000" fill-opacity="0.90"/>
<rect x="592" y="329.4" width="3" height="0.60" fill="#ff0000" fill-opacity="0.67"/>
<rect x="595" y="329.4" width="3" height="0.60" fill="#ff0000" fill-opacity="0.44"/>
<rect x="599" y="328.98" width="3" height="0.62" fill="#20e820" fill-opacity="0.81"/>
<rect x="603" y="328.88" width="3" height="0.72" fill="#20e820" fill-opacity="0.89"/>
<rect x="607" y="328.79" width="3" height="0.81" fill="#20e820" fill-opacity="0.98"/>
<rect x="611" y="328.71" width="3" height="0.89" fill="#20e820" fill-opacity="1.00"/>
<rect x="615" y="328.85" width="3" height="0.75" fill="#20e820" fill-opacity="0.92"/>
<rect x="619" y="328.99" width="3" height="0.61" fill="#20e820" fill-opacity="0.79"/>
<rect x="622" y="329.00" width="3" height="0.60" fill="#20e820" fill-opacity="0.68"/>
<rect x="626" y="329.00" width="3" height="0.60" fill="#20e820" fill-opacity="0.59"/>
<rect x="630" y="329.00" width="3" height="0.60" fill="#20e820" fill-opacity="0.50"/>
<rect x="634" y="329.00" width="3" height="0.60" fill="#20e820" fill-opacity="0.47"/>
<rect x="638" y="329.00" width="3" height="0.60" fill="#20e820" fill-opacity="0.73"/>
<rect x="642" y="328.79" width="3" height="0.81" fill="#20e820" fill-opacity="0.98"/>
<rect x="646" y="328.66" width="3" height="0.94" fill="#20e820" fill-opacity="1.00"/>
<rect x="650" y="328.53" width="3" height="1.07" fill="#20e820" fill-opacity="1.00"/>
<rect x="653" y="328.66" width="3" height="0.94" fill="#20e820" fill-opacity="1.00"/>
<rect x="657" y="328.88" width="3" height="0.72" fill="#20e820" fill-opacity="0.90"/>
<rect x="661" y="329.00" width="3" height="0.60" fill="#20e820" fill-opacity="0.68"/>
<rect x="665" y="329.00" width="3" height="0.60" fill="#20e820" fill-opacity="0.43"/>
<rect x="669" y="329.4" width="3" height="0.62" fill="#ff0000" fill-opacity="0.81"/>
<rect x="673" y="329.4" width="3" height="0.97" fill="#ff0000" fill-opacity="1.00"/>
<rect x="677" y="329.4" width="3" height="1.18" fill="#ff0000" fill-opacity="1.00"/>
<rect x="681" y="329.4" width="3" height="1.39" fill="#ff0000" fill-opacity="1.00"/>
<rect x="684" y="329.4" width="3" height="1.59" fill="#ff0000" fill-opacity="1.00"/>
<rect x="688" y="329.4" width="3" height="1.39" fill="#ff0000" fill-opacity="1.00"/>
<rect x="692" y="329.4" width="3" height="1.18" fill="#ff0000" fill-opacity="1.00"/>
<rect x="696" y="329.4" width="3" height="0.87" fill="#ff0000" fill-opacity="1.00"/>
<rect x="700" y="329.00" width="3" height="0.60" fill="#20e820" fill-opacity="0.75"/>
<rect x="704" y="328.53" width="3" height="1.07" fill="#20e820" fill-opacity="1.00"/>
<rect x="708" y="328.32" width="3" height="1.28" fill="#20e820" fill-opacity="1.00"/>
<rect x="711" y="328.11" width="3" height="1.49" fill="#20e820" fill-opacity="1.00"/>
<rect x="715" y="328.01" width="3" height="1.59" fill="#20e820" fill-opacity="1.00"/>
<rect x="719" y="328.04" width="3" height="1.56" fill="#20e820" fill-opacity="1.00"/>
<rect x="723" y="328.07" width="3" height="1.53" fill="#20e820" fill-opacity="1.00"/>
<rect x="727" y="328.13" width="3" height="1.47" fill="#20e820" fill-opacity="1.00"/>
<rect x="731" y="328.40" width="3" height="1.20" fill="#20e820" fill-opacity="1.00"/>
<rect x="735" y="328.67" width="3" height="0.93" fill="#20e820" fill-opacity="1.00"/>
<rect x="739" y="328.89" width="3" height="0.71" fill="#20e820" fill-opacity="0.89"/>
<rect x="742" y="329.00" width="3" height="0.60" fill="#20e820" fill-opacity="0.75"/>
<rect x="746" y="329.00" width="3" height="0.60" fill="#20e820" fill-opacity="0.60"/>
<rect x="750" y="329.00" width="3" height="0.60" fill="#20e820" fill-opacity="0.51"/>
<rect x="754" y="329.00" width="3" height="0.60" fill="#20e820" fill-opacity="0.49"/>
<rect x="758" y="329.00" width="3" height="0.60" fill="#20e820" fill-opacity="0.46"/>
<rect x="762" y="329.00" width="3" height="0.60" fill="#20e820" fill-opacity="0.44"/>
<rect x="766" y="329.00" width="3" height="0.60" fill="#20e820" fill-opacity="0.42"/>
<rect x="770" y="329.00" width="3" height="0.60" fill="#20e820" fill-opacity="0.39"/>
<rect x="773" y="329.00" width="3" height="0.60" fill="#20e820" fill-opacity="0.37"/>
<rect x="777" y="329.00" width="3" height="0.60" fill="#20e820" fill-opacity="0.35"/>
<rect x="785" y="329.4" width="3" height="0.60" fill="#ff0000" fill-opacity="0.31"/>
<rect x="789" y="329.4" width="3" height="0.60" fill="#ff0000" fill-opacity="0.39"/>
<rect x="793" y="329.4" width="3" height="0.60" fill="#ff0000" fill-opacity="0.48"/>
<rect x="797" y="329.4" width="3" height="0.60" fill="#ff0000" fill-opacity="0.57"/>
<rect x="800" y="329.4" width="3" height="0.60" fill="#ff0000" fill-opacity="0.62"/>
<rect x="804" y="329.4" width="3" height="0.60" fill="#ff0000" fill-opacity="0.63"/>
<rect x="808" y="329.4" width="3" height="0.60" fill="#ff0000" fill-opacity="0.64"/>
<rect x="812" y="329.4" width="3" height="0.60" fill="#ff0000" fill-opacity="0.66"/>
<rect x="816" y="329.4" width="3" height="0.60" fill="#ff0000" fill-opacity="0.67"/>
<rect x="820" y="329.4" width="3" height="0.60" fill="#ff0000" fill-opacity="0.68"/>
<rect x="824" y="329.4" width="3" height="0.60" fill="#ff0000" fill-opacity="0.70"/>
<rect x="828" y="329.4" width="3" height="0.60" fill="#ff0000" fill-opacity="0.62"/>
<rect x="831" y="329.4" width="3" height="0.60" fill="#ff0000" fill-opacity="0.52"/>
<rect x="835" y="329.4" width="3" height="0.60" fill="#ff0000" fill-opacity="0.42"/>
<rect x="839" y="329.4" width="3" height="0.60" fill="#ff0000" fill-opacity="0.32"/>
<rect x="843" y="329.00" width="3" height="0.60" fill="#20e820" fill-opacity="0.32"/>
<rect x="847" y="329.00" width="3" height="0.60" fill="#20e820" fill-opacity="0.46"/>
<rect x="851" y="329.00" width="3" height="0.60" fill="#20e820" fill-opacity="0.52"/>
<rect x="855" y="329.00" width="3" height="0.60" fill="#20e820" fill-opacity="0.52"/>
<rect x="859" y="329.00" width="3" height="0.60" fill="#20e820" fill-opacity="0.52"/>
<rect x="862" y="329.00" width="3" height="0.60" fill="#20e820" fill-opacity="0.37"/>
<rect x="866" y="329.4" width="3" height="0.60" fill="#ff0000" fill-opacity="0.44"/>
<rect x="870" y="329.4" width="3" height="0.60" fill="#ff0000" fill-opacity="0.64"/>
<rect x="874" y="329.4" width="3" height="0.60" fill="#ff0000" fill-opacity="0.71"/>
<rect x="878" y="329.4" width="3" height="0.60" fill="#ff0000" fill-opacity="0.78"/>
<rect x="882" y="329.4" width="3" height="0.67" fill="#ff0000" fill-opacity="0.85"/>
<rect x="886" y="329.4" width="3" height="0.74" fill="#ff0000" fill-opacity="0.92"/>
<rect x="890" y="329.4" width="3" height="0.78" fill="#ff0000" fill-opacity="0.95"/>
<rect x="893" y="329.4" width="3" height="0.72" fill="#ff0000" fill-opacity="0.90"/>
<rect x="897" y="329.4" width="3" height="0.65" fill="#ff0000" fill-opacity="0.84"/>
<rect x="901" y="329.4" width="3" height="0.60" fill="#ff0000" fill-opacity="0.78"/>
<rect x="905" y="329.4" width="3" height="0.60" fill="#ff0000" fill-opacity="0.72"/>
<rect x="909" y="329.4" width="3" height="0.60" fill="#ff0000" fill-opacity="0.63"/>
<rect x="913" y="329.4" width="3" height="0.60" fill="#ff0000" fill-opacity="0.51"/>
<rect x="917" y="329.4" width="3" height="0.60" fill="#ff0000" fill-opacity="0.40"/>
<rect x="924" y="329.00" width="3" height="0.60" fill="#20e820" fill-opacity="0.31"/>
<rect x="928" y="329.00" width="3" height="0.60" fill="#20e820" fill-opacity="0.40"/>
<rect x="932" y="329.00" width="3" height="0.60" fill="#20e820" fill-opacity="0.50"/>
<rect x="936" y="329.00" width="3" height="0.60" fill="#20e820" fill-opacity="0.60"/>
<rect x="940" y="329.00" width="3" height="0.60" fill="#20e820" fill-opacity="0.57"/>
<rect x="944" y="329.00" width="3" height="0.60" fill="#20e820" fill-opacity="0.53"/>
<rect x="948" y="329.4" width="3" height="0.60" fill="#ff0000" fill-opacity="0.43"/>
<rect x="951" y="329.4" width="3" height="0.60" fill="#ff0000" fill-opacity="0.61"/>
<rect x="955" y="329.4" width="3" height="2.10" fill="#ff0000" fill-opacity="1.00"/>
<rect x="959" y="329.4" width="3" height="3.10" fill="#ff0000" fill-opacity="1.00"/>
<rect x="963" y="329.4" width="3" height="4.00" fill="#ff0000" fill-opacity="1.00"/>
<rect x="967" y="329.4" width="3" height="4.30" fill="#ff0000" fill-opacity="1.00"/>
<rect x="971" y="329.4" width="3" height="3.60" fill="#ff0000" fill-opacity="1.00"/>
<rect x="975" y="329.4" width="3" height="3.10" fill="#ff0000" fill-opacity="1.00"/>
<rect x="979" y="329.4" width="3" height="2.80" fill="#ff0000" fill-opacity="1.00"/>
<rect x="982" y="329.4" width="3" height="2.40" fill="#ff0000" fill-opacity="1.00"/>
<rect x="986" y="329.4" width="3" height="2.10" fill="#ff0000" fill-opacity="1.00"/>
<rect x="990" y="329.4" width="3" height="1.90" fill="#ff0000" fill-opacity="1.00"/>
<rect x="994" y="329.4" width="3" height="1.50" fill="#ff0000" fill-opacity="1.00"/>
<rect x="998" y="329.4" width="3" height="1.20" fill="#ff0000" fill-opacity="1.00"/>
<rect x="1002" y="329.4" width="3" height="1.00" fill="#ff0000" fill-opacity="1.00"/>
<rect x="1006" y="329.4" width="3" height="0.70" fill="#ff0000" fill-opacity="0.88"/>
<rect x="1009" y="329.4" width="3" height="0.60" fill="#ff0000" fill-opacity="0.61"/>
<rect x="1013" y="329.4" width="3" height="0.60" fill="#ff0000" fill-opacity="0.43"/>
<rect x="1017" y="329.00" width="3" height="0.60" fill="#20e820" fill-opacity="0.29"/>
<rect x="1021" y="328.60" width="3" height="1.00" fill="#20e820" fill-opacity="1.00"/>
<rect x="1025" y="328.60" width="3" height="1.00" fill="#20e820" fill-opacity="1.00"/>
<path d="M0.0 330.3 C0.9 329.7 2.1 327.7 5.3 326.8 C8.4 325.8 12.2 325.6 17.6 325.0 C23.0 324.5 28.8 323.9 35.2 323.6 C41.5 323.4 46.4 323.5 52.8 323.6 C59.1 323.7 64.0 324.0 70.4 324.2 C76.7 324.3 81.6 324.6 88.0 324.7 C94.3 324.8 99.2 324.3 105.5 324.7 C111.9 325.1 116.8 326.0 123.1 326.8 C129.5 327.6 134.4 328.4 140.7 328.9 C147.1 329.4 152.0 329.4 158.3 329.6 C164.6 329.8 170.2 329.7 175.9 330.0 C181.6 330.2 184.7 330.6 190.0 331.0 C195.3 331.4 199.3 331.9 205.3 332.0 C211.3 332.1 216.7 331.8 223.2 331.5 C229.6 331.3 233.2 330.3 241.0 330.8 C248.8 331.2 257.3 332.8 266.5 333.8 C275.7 334.8 285.6 336.0 292.0 336.4 C298.5 336.7 297.7 336.4 302.2 335.9 C306.8 335.3 312.5 333.9 317.6 333.3 C322.6 332.7 325.7 332.4 330.3 332.3 C334.9 332.1 336.2 332.8 343.1 332.5 C349.9 332.3 359.4 331.4 368.6 330.8 C377.8 330.1 385.8 329.2 394.1 328.7 C402.3 328.3 407.6 328.2 414.5 328.2 C421.4 328.2 425.9 328.9 432.3 329.0 C438.8 329.1 444.2 328.7 450.2 328.7 C456.2 328.8 461.9 329.1 465.5 329.2 C469.1 329.3 466.9 329.5 470.0 329.2 C473.1 328.9 477.2 328.2 482.8 327.7 C488.3 327.2 494.2 326.6 500.6 326.4 C507.0 326.2 512.5 326.2 518.5 326.4 C524.4 326.6 527.8 327.1 533.8 327.7 C539.7 328.3 544.7 329.3 551.6 330.0 C558.5 330.7 566.1 331.5 572.0 331.8 C578.0 332.1 579.3 332.0 584.8 331.8 C590.3 331.6 595.8 331.0 602.7 330.8 C609.5 330.5 615.7 330.7 623.1 330.5 C630.4 330.3 637.5 330.0 643.5 329.7 C649.4 329.5 651.6 329.0 656.2 329.0 C660.8 328.9 663.5 329.1 669.0 329.5 C674.5 329.9 682.2 330.9 686.8 331.3 C691.4 331.6 691.3 331.7 694.5 331.5 C697.7 331.3 700.1 330.8 704.7 330.2 C709.3 329.7 715.4 329.1 720.0 328.7 C724.6 328.3 725.6 328.3 730.2 328.2 C734.8 328.1 741.9 328.2 745.5 328.2 C749.1 328.2 744.6 328.2 750.0 328.2 C755.4 328.2 766.3 328.2 775.5 328.5 C784.7 328.7 791.8 329.4 801.0 329.7 C810.2 330.1 817.3 330.2 826.5 330.2 C835.7 330.2 842.9 329.7 852.0 329.7 C861.2 329.7 868.4 330.1 877.6 330.2 C886.7 330.4 893.9 330.5 903.1 330.5 C912.2 330.5 923.7 330.2 928.6 330.2 C933.4 330.3 925.6 330.4 930.0 330.6 C934.4 330.7 948.0 330.7 953.2 331.1 C958.4 331.4 956.6 331.9 959.0 332.5 C961.5 333.2 964.1 333.9 966.8 334.6 C969.4 335.3 970.6 335.7 973.5 336.4 C976.5 337.0 979.7 337.6 983.2 338.1 C986.7 338.6 989.4 338.9 992.9 339.3 C996.3 339.6 999.1 339.8 1002.5 340.1 C1006.0 340.3 1009.2 340.4 1012.2 340.4 C1015.2 340.5 1016.5 340.5 1019.0 340.4 C1021.4 340.4 1024.5 340.1 1025.7 340.1" fill="none" stroke="#ee7418" stroke-width="1.15" stroke-linejoin="round" stroke-linecap="round" />
<path d="M0.0 327.7 C1.3 327.2 3.9 325.9 7.0 325.0 C10.2 324.2 12.5 323.5 17.6 322.9 C22.7 322.4 28.8 321.8 35.2 321.9 C41.5 321.9 46.4 322.6 52.8 323.3 C59.1 323.9 64.0 325.1 70.4 325.4 C76.7 325.6 81.6 324.7 88.0 324.7 C94.3 324.6 99.2 324.4 105.5 325.0 C111.9 325.7 116.8 327.3 123.1 328.2 C129.5 329.1 134.4 329.7 140.7 330.0 C147.1 330.2 152.0 329.4 158.3 329.4 C164.6 329.5 170.2 329.8 175.9 330.3 C181.6 330.8 184.7 331.6 190.0 332.1 C195.3 332.5 199.3 332.9 205.3 332.8 C211.3 332.7 216.7 331.6 223.2 331.3 C229.6 330.9 233.2 330.0 241.0 330.8 C248.8 331.5 257.3 334.2 266.5 335.3 C275.7 336.5 285.6 337.3 292.0 337.4 C298.5 337.5 297.7 336.8 302.2 335.9 C306.8 334.9 312.5 332.9 317.6 332.0 C322.6 331.2 325.7 331.2 330.3 331.3 C334.9 331.4 336.2 332.8 343.1 332.5 C349.9 332.3 359.4 330.9 368.6 330.0 C377.8 329.1 385.8 328.1 394.1 327.7 C402.3 327.3 407.6 327.4 414.5 327.7 C421.4 328.0 425.9 329.0 432.3 329.2 C438.8 329.4 444.2 328.7 450.2 328.7 C456.2 328.7 461.9 329.2 465.5 329.2 C469.1 329.2 466.9 329.2 470.0 328.7 C473.1 328.3 477.2 327.2 482.8 326.7 C488.3 326.1 494.2 325.7 500.6 325.7 C507.0 325.6 512.5 325.9 518.5 326.4 C524.4 327.0 527.8 327.8 533.8 328.7 C539.7 329.6 544.7 330.5 551.6 331.3 C558.5 332.0 566.1 332.7 572.0 332.8 C578.0 332.9 579.3 332.5 584.8 332.0 C590.3 331.6 595.8 330.6 602.7 330.2 C609.5 329.9 615.7 330.4 623.1 330.2 C630.4 330.1 637.5 329.6 643.5 329.2 C649.4 328.9 651.6 328.1 656.2 328.2 C660.8 328.3 663.5 329.0 669.0 329.7 C674.5 330.5 682.2 331.8 686.8 332.3 C691.4 332.7 691.3 332.7 694.5 332.3 C697.7 331.8 700.1 330.6 704.7 329.7 C709.3 328.9 715.4 328.1 720.0 327.7 C724.6 327.3 725.6 327.6 730.2 327.7 C734.8 327.8 741.9 328.1 745.5 328.2 C749.1 328.3 744.6 328.1 750.0 328.2 C755.4 328.3 766.3 328.3 775.5 328.7 C784.7 329.1 791.8 329.9 801.0 330.2 C810.2 330.6 817.3 330.6 826.5 330.5 C835.7 330.4 842.9 329.7 852.0 329.7 C861.2 329.8 868.4 330.6 877.6 330.8 C886.7 330.9 893.9 330.8 903.1 330.8 C912.2 330.7 923.7 330.3 928.6 330.2 C933.4 330.2 925.7 330.4 930.0 330.6 C934.3 330.7 947.7 330.7 952.2 331.1 C956.8 331.4 953.9 331.7 955.1 332.5 C956.4 333.3 957.4 334.5 959.0 335.4 C960.6 336.4 961.8 337.1 963.8 337.8 C965.9 338.5 967.7 338.8 970.6 339.3 C973.6 339.7 976.8 340.1 980.3 340.4 C983.8 340.8 986.0 340.9 990.0 341.0 C994.0 341.1 998.5 341.1 1002.5 341.0 C1006.5 341.0 1008.7 341.0 1012.2 340.7 C1015.7 340.5 1019.4 340.0 1021.9 339.8 C1024.3 339.5 1025.0 339.4 1025.7 339.3" fill="none" stroke="#2446f0" stroke-width="1.15" stroke-linejoin="round" stroke-linecap="round" />
</g>
<g clip-path="url(#cs)">
<rect x="1.5" y="353.2" width="1025.1" height="7.199999999999989" fill="#7df07d"/>
<line x1="1.5" x2="1026.6" y1="360.4" y2="360.4" stroke="#000" stroke-width="0.85" stroke-dasharray="3,1"/>
<rect x="1.5" y="383.5" width="1025.1" height="8.3" fill="#f88080"/>
<line x1="1.5" x2="1026.6" y1="383.5" y2="383.5" stroke="#000" stroke-width="0.85" stroke-dasharray="3,1"/>
<line x1="1.8" x2="1.8" y1="353.2" y2="360.4" stroke="#000" stroke-width="0.8"/><line x1="1.8" x2="1.8" y1="383.5" y2="391.8" stroke="#000" stroke-width="0.8"/>
<line x1="1026.6" x2="1026.6" y1="353.2" y2="360.4" stroke="#000" stroke-width="0.9"/><line x1="1026.6" x2="1026.6" y1="383.5" y2="391.8" stroke="#000" stroke-width="0.9"/>
<path d="M0.9 362.7 C1.7 362.1 2.3 360.4 5.3 359.7 C8.3 358.9 12.2 358.8 17.6 358.4 C23.0 358.1 30.1 357.9 35.2 357.9 C40.2 357.9 42.6 357.3 45.7 358.4 C48.9 359.6 50.2 361.5 52.8 364.1 C55.3 366.7 56.6 370.5 59.8 372.9 C63.0 375.2 67.2 376.9 70.4 377.3 C73.5 377.6 74.9 376.7 77.4 374.6 C79.9 372.6 81.9 367.8 84.4 365.8 C87.0 363.9 88.3 363.6 91.5 363.7 C94.6 363.9 98.2 364.7 102.0 366.7 C105.8 368.7 109.4 371.9 112.6 374.6 C115.7 377.3 116.8 380.1 119.6 381.7 C122.5 383.2 125.2 382.9 128.4 383.4 C131.6 383.9 134.7 384.8 137.2 384.3 C139.7 383.8 140.3 382.1 142.5 380.8 C144.7 379.4 146.7 377.5 149.5 376.7 C152.4 375.9 155.5 376.2 158.3 376.4 C161.2 376.6 162.8 377.7 165.3 377.8 C167.9 377.9 169.5 376.7 172.4 376.7 C175.2 376.8 178.3 377.6 181.2 378.1 C184.0 378.7 186.6 379.2 188.2 379.9 C189.8 380.7 188.3 381.4 190.0 382.3 C191.7 383.3 194.7 384.9 197.4 385.1 C200.0 385.3 202.1 384.7 204.8 383.2 C207.4 381.8 209.5 378.8 212.2 376.8 C214.8 374.8 216.9 373.7 219.6 372.2 C222.2 370.7 224.3 370.2 226.9 368.5 C229.6 366.7 232.0 363.6 234.3 362.6 C236.7 361.6 237.5 362.0 239.9 362.9 C242.2 363.8 244.6 364.9 247.3 367.5 C249.9 370.2 252.3 374.7 254.6 377.7 C257.0 380.7 257.9 382.7 260.2 384.2 C262.5 385.7 264.3 385.9 267.6 386.0 C270.9 386.2 274.7 385.2 278.7 385.1 C282.6 385.0 286.4 386.0 289.7 385.5 C293.1 385.0 294.5 384.7 297.1 382.3 C299.8 379.9 301.9 375.5 304.5 372.2 C307.2 368.8 309.2 366.1 311.9 363.9 C314.6 361.6 316.6 360.1 319.3 359.6 C322.0 359.1 324.4 360.5 326.7 361.1 C329.0 361.7 330.2 361.4 332.2 362.9 C334.2 364.4 335.8 367.4 337.8 369.4 C339.8 371.4 341.0 373.3 343.3 374.0 C345.6 374.7 348.4 373.7 350.7 373.1 C353.0 372.5 353.6 371.2 356.2 370.7 C358.9 370.2 362.1 371.3 365.5 370.3 C368.8 369.3 371.7 367.0 374.7 365.1 C377.7 363.3 379.6 360.8 382.1 360.2 C384.6 359.5 387.1 361.1 388.6 361.5 C390.0 361.8 387.7 361.9 390.0 362.0 C392.3 362.1 397.4 361.5 401.1 362.0 C404.7 362.5 407.0 363.6 410.3 364.8 C413.6 365.9 416.6 366.5 419.6 368.5 C422.5 370.5 424.3 373.5 426.9 375.9 C429.6 378.2 432.0 380.9 434.3 381.4 C436.7 381.9 437.5 380.8 439.9 378.6 C442.2 376.5 444.6 372.2 447.3 369.4 C449.9 366.6 452.3 363.8 454.6 363.3 C457.0 362.8 458.2 364.5 460.2 366.6 C462.2 368.7 463.7 373.0 465.7 374.9 C467.7 376.9 469.3 378.2 471.3 377.3 C473.3 376.5 474.8 373.3 476.8 370.3 C478.8 367.3 480.4 362.7 482.4 360.7 C484.3 358.7 485.2 359.2 487.9 359.2 C490.6 359.2 493.8 360.2 497.1 360.7 C500.5 361.2 503.0 362.1 506.4 362.0 C509.7 361.9 512.9 360.4 515.6 360.2 C518.3 359.9 519.1 359.4 521.1 360.7 C523.1 362.0 524.7 365.0 526.7 367.5 C528.7 370.1 530.2 372.4 532.2 374.9 C534.2 377.4 535.4 379.7 537.8 381.4 C540.1 383.1 542.5 383.7 545.2 384.2 C547.8 384.7 549.9 384.5 552.5 384.2 C555.2 383.8 557.3 382.8 559.9 382.3 C562.6 381.8 564.7 381.5 567.3 381.4 C570.0 381.3 572.0 382.6 574.7 381.8 C577.4 380.9 579.5 378.5 582.1 376.8 C584.7 375.1 587.7 373.0 589.1 372.2 C590.5 371.3 588.2 373.0 590.0 372.2 C591.8 371.3 595.9 369.1 599.2 367.5 C602.6 366.0 605.5 363.6 608.5 363.3 C611.5 363.0 613.2 364.9 615.9 365.7 C618.5 366.5 620.3 365.9 623.2 367.5 C626.2 369.2 629.7 373.0 632.5 374.9 C635.3 376.8 636.6 378.9 638.9 378.1 C641.3 377.2 642.9 372.9 645.4 370.3 C647.9 367.8 650.1 364.9 652.8 363.9 C655.5 362.9 657.5 362.6 660.2 364.8 C662.8 366.9 665.2 372.4 667.6 375.9 C669.9 379.3 671.1 382.0 673.1 384.2 C675.1 386.3 676.0 387.4 678.7 387.9 C681.3 388.3 684.9 387.2 687.9 386.6 C690.9 385.9 692.6 386.3 695.3 384.2 C697.9 382.1 700.0 378.6 702.7 374.9 C705.3 371.3 707.4 366.3 710.1 363.9 C712.7 361.4 714.5 361.8 717.4 361.5 C720.4 361.1 723.0 361.1 726.7 362.0 C730.3 362.9 734.1 365.4 737.8 366.3 C741.4 367.2 744.0 366.4 747.0 367.0 C750.0 367.6 751.7 367.5 754.4 369.4 C757.0 371.3 759.4 376.3 761.8 377.3 C764.1 378.3 765.3 376.0 767.3 374.9 C769.3 373.8 770.9 371.2 772.9 371.2 C774.9 371.2 776.4 373.3 778.4 374.9 C780.4 376.6 782.0 379.6 783.9 380.5 C785.9 381.3 788.0 379.6 789.1 379.6 C790.2 379.6 788.7 380.7 790.0 380.5 C791.3 380.2 794.0 377.6 796.5 378.1 C799.0 378.6 801.4 382.2 803.9 383.2 C806.3 384.2 807.8 384.0 810.3 383.6 C812.8 383.2 814.7 382.3 817.7 381.0 C820.7 379.8 823.9 378.2 826.9 376.8 C829.9 375.4 831.7 373.6 834.3 373.1 C837.0 372.6 839.1 374.5 841.7 374.0 C844.4 373.5 846.8 371.7 849.1 370.3 C851.4 368.9 852.7 367.2 854.6 366.3 C856.6 365.3 857.8 364.6 859.8 365.1 C861.8 365.7 863.3 367.1 865.7 369.4 C868.1 371.7 870.5 375.1 873.1 377.7 C875.8 380.3 878.2 383.0 880.5 383.6 C882.8 384.3 884.1 382.1 886.0 381.4 C888.0 380.7 889.6 379.8 891.6 379.9 C893.6 380.1 894.8 381.3 897.1 382.3 C899.5 383.3 902.2 385.3 904.5 385.5 C906.8 385.6 908.1 385.0 910.1 383.2 C912.1 381.5 913.9 377.5 915.6 375.9 C917.3 374.2 917.6 373.5 919.3 374.0 C921.0 374.5 922.8 377.0 924.8 378.6 C926.8 380.2 928.0 382.5 930.4 382.9 C932.7 383.2 936.0 381.0 937.8 380.5 C939.5 379.9 938.4 380.4 940.0 379.7 C941.6 379.1 944.8 377.1 946.9 376.9 C948.9 376.7 949.6 377.3 951.4 378.6 C953.3 379.8 955.1 382.7 957.2 383.7 C959.2 384.7 960.4 384.3 962.9 384.1 C965.3 383.9 968.0 383.2 970.9 382.6 C973.8 382.0 976.2 380.6 978.9 380.6 C981.6 380.6 983.1 382.0 985.7 382.6 C988.4 383.2 990.9 383.6 993.7 384.1 C996.6 384.6 999.1 385.0 1001.7 385.4 C1004.4 385.9 1006.1 386.9 1008.6 386.8 C1011.1 386.7 1013.0 385.7 1015.5 384.9 C1017.9 384.0 1020.4 382.9 1022.3 382.2 C1024.3 381.6 1025.6 381.6 1026.3 381.4" fill="none" stroke="#ee7418" stroke-width="1.1" stroke-linejoin="round" stroke-linecap="round" />
<path d="M0.9 359.1 C2.0 358.8 4.0 357.0 7.0 357.0 C10.0 357.0 14.1 359.1 17.6 359.1 C21.1 359.2 22.0 357.7 26.4 357.4 C30.8 357.1 38.1 356.8 42.2 357.4 C46.3 358.0 46.4 357.1 49.3 360.6 C52.1 364.0 54.2 373.3 58.0 376.4 C61.8 379.5 66.9 379.4 70.4 377.8 C73.8 376.2 75.2 370.5 77.4 367.6 C79.6 364.6 80.8 362.1 82.7 361.4 C84.6 360.8 85.1 363.1 88.0 364.1 C90.8 365.0 94.7 365.1 98.5 366.7 C102.3 368.3 105.9 370.3 109.1 372.9 C112.2 375.4 113.6 379.0 116.1 380.8 C118.6 382.5 120.3 381.6 123.1 382.5 C126.0 383.5 129.6 385.9 131.9 386.1 C134.3 386.2 134.7 385.0 136.3 383.4 C137.9 381.8 138.3 378.5 140.7 377.3 C143.1 376.0 146.4 376.5 149.5 376.4 C152.7 376.3 155.8 376.3 158.3 376.7 C160.8 377.2 161.7 379.0 163.6 379.0 C165.5 379.0 166.3 377.1 168.9 376.7 C171.4 376.4 175.1 376.4 177.7 377.3 C180.2 378.1 181.0 380.8 182.9 381.3 C184.8 381.8 186.9 379.9 188.2 380.3 C189.5 380.6 188.2 381.8 190.0 383.2 C191.8 384.7 196.0 388.3 198.3 388.4 C200.6 388.6 201.1 386.4 202.9 384.2 C204.8 381.9 205.8 378.4 208.5 375.9 C211.1 373.4 215.0 371.5 217.7 370.3 C220.4 369.2 221.3 370.6 223.2 369.4 C225.2 368.2 227.0 365.4 228.8 363.9 C230.6 362.3 231.4 360.5 233.4 360.7 C235.4 360.9 237.4 362.9 239.9 364.8 C242.4 366.7 244.6 368.0 247.3 371.2 C249.9 374.5 252.0 380.1 254.6 382.9 C257.3 385.7 259.7 386.2 262.0 386.9 C264.4 387.7 265.2 387.3 267.6 386.9 C269.9 386.6 271.6 385.3 275.0 385.1 C278.3 384.9 282.6 386.2 286.0 386.0 C289.5 385.9 291.7 386.7 294.4 384.2 C297.0 381.7 298.0 376.2 300.8 372.2 C303.6 368.2 307.1 364.5 310.1 362.0 C313.1 359.5 315.1 358.5 317.4 358.3 C319.8 358.1 321.0 360.3 323.0 361.1 C325.0 361.8 326.2 360.9 328.5 362.6 C330.9 364.2 333.6 367.7 335.9 370.3 C338.2 373.0 339.5 376.8 341.5 377.3 C343.5 377.8 344.8 374.6 347.0 373.1 C349.2 371.6 351.5 369.2 353.5 368.8 C355.5 368.5 355.9 371.0 358.1 371.2 C360.2 371.4 362.5 371.6 365.5 369.9 C368.5 368.3 372.0 363.9 374.7 362.0 C377.4 360.1 378.6 359.7 380.2 359.2 C381.9 358.8 382.4 359.1 383.9 359.6 C385.4 360.1 387.5 361.7 388.6 362.2 C389.6 362.7 387.7 362.5 390.0 362.6 C392.3 362.6 397.4 361.9 401.1 362.6 C404.7 363.2 407.3 365.0 410.3 366.3 C413.3 367.5 415.0 367.3 417.7 369.4 C420.4 371.5 422.8 375.2 425.1 377.7 C427.4 380.2 428.6 383.2 430.6 383.2 C432.6 383.2 433.8 380.5 436.2 377.7 C438.5 374.9 440.9 370.5 443.6 367.5 C446.2 364.6 449.0 362.2 451.0 361.5 C452.9 360.7 453.0 361.4 454.6 363.3 C456.3 365.2 458.2 369.4 460.2 372.2 C462.2 374.9 463.7 378.3 465.7 378.6 C467.7 379.0 469.3 376.8 471.3 374.0 C473.3 371.2 475.0 365.9 476.8 362.9 C478.6 360.0 479.8 358.3 481.4 357.8 C483.1 357.3 483.6 359.6 486.0 360.2 C488.5 360.7 492.0 360.3 495.3 360.7 C498.6 361.1 501.5 362.7 504.5 362.6 C507.5 362.5 509.6 360.7 511.9 360.2 C514.2 359.6 515.8 358.9 517.4 359.6 C519.1 360.3 519.5 361.6 521.1 363.9 C522.8 366.1 524.7 369.3 526.7 372.2 C528.7 375.0 530.2 377.6 532.2 379.6 C534.2 381.5 535.1 381.8 537.8 382.9 C540.4 383.9 544.3 385.2 547.0 385.5 C549.7 385.7 550.2 385.1 552.5 384.2 C554.9 383.3 557.3 381.0 559.9 380.5 C562.6 380.0 565.0 381.0 567.3 381.4 C569.6 381.8 570.9 383.4 572.9 382.9 C574.9 382.4 576.4 380.3 578.4 378.6 C580.4 377.0 582.0 375.1 583.9 373.6 C585.9 372.1 588.0 371.1 589.1 370.3 C590.2 369.6 588.8 369.9 590.0 369.4 C591.2 368.9 593.5 368.6 595.5 367.5 C597.5 366.4 598.8 364.1 601.1 363.3 C603.4 362.5 606.3 362.2 608.5 362.9 C610.6 363.7 611.1 366.9 613.1 367.5 C615.1 368.2 617.4 366.1 619.6 366.6 C621.7 367.1 622.9 368.2 625.1 370.3 C627.3 372.5 629.1 377.3 631.6 378.6 C634.1 380.0 636.8 379.5 638.9 377.7 C641.1 375.9 641.4 371.3 643.6 368.5 C645.7 365.6 648.3 362.5 651.0 362.0 C653.6 361.5 656.0 363.5 658.3 365.7 C660.7 367.9 661.9 370.4 663.9 374.0 C665.9 377.7 667.1 383.5 669.4 386.0 C671.8 388.5 674.2 387.9 676.8 387.9 C679.5 387.9 681.5 386.4 684.2 386.0 C686.9 385.7 689.3 386.8 691.6 386.0 C693.9 385.2 695.1 384.4 697.1 381.4 C699.1 378.4 700.5 373.2 702.7 369.4 C704.8 365.6 707.1 361.5 709.1 360.2 C711.1 358.8 711.3 361.7 713.8 362.0 C716.2 362.3 720.0 361.5 723.0 362.0 C726.0 362.5 727.7 363.8 730.4 364.8 C733.0 365.8 734.8 367.1 737.8 367.5 C740.8 367.9 744.3 366.5 747.0 367.0 C749.7 367.5 750.2 368.1 752.5 370.3 C754.9 372.6 757.6 379.1 759.9 379.6 C762.3 380.1 763.6 374.9 765.5 373.1 C767.3 371.3 768.4 369.4 770.1 369.4 C771.8 369.4 772.5 370.8 774.7 373.1 C776.9 375.4 779.8 381.2 782.1 382.3 C784.4 383.5 786.2 380.4 787.6 379.6 C789.1 378.7 788.7 378.1 790.0 377.7 C791.3 377.3 792.5 376.1 794.6 377.3 C796.8 378.6 799.5 383.5 802.0 384.7 C804.5 386.0 806.3 384.9 808.5 384.2 C810.6 383.4 811.7 381.6 814.0 380.5 C816.3 379.3 818.1 379.1 821.4 377.7 C824.7 376.3 829.2 373.0 832.5 372.5 C835.8 372.0 837.2 375.5 839.9 374.9 C842.5 374.4 845.0 371.6 847.3 369.4 C849.5 367.2 850.4 363.1 852.4 362.6 C854.4 362.1 856.3 364.7 858.3 366.6 C860.4 368.5 861.6 370.8 863.9 373.1 C866.2 375.4 868.6 377.4 871.3 379.6 C873.9 381.7 876.3 384.9 878.7 385.1 C881.0 385.3 882.2 381.5 884.2 380.5 C886.2 379.4 887.7 378.7 889.7 379.2 C891.7 379.7 893.0 381.9 895.3 383.2 C897.6 384.6 900.3 387.3 902.7 386.9 C905.0 386.6 906.2 384.1 908.2 381.4 C910.3 378.7 912.1 372.8 914.1 371.8 C916.1 370.8 917.2 373.6 919.3 375.9 C921.4 378.1 923.4 383.2 925.8 384.2 C928.1 385.2 930.1 382.3 932.2 381.4 C934.4 380.5 936.4 379.9 937.8 379.2 C939.2 378.5 938.8 378.1 940.0 377.4 C941.2 376.8 942.9 375.2 944.6 375.4 C946.2 375.6 947.0 376.6 949.1 378.6 C951.3 380.6 954.1 385.4 956.6 386.4 C959.0 387.3 960.7 384.4 962.9 383.7 C965.0 383.1 966.3 383.2 968.6 382.6 C970.8 382.0 973.0 380.4 975.4 380.3 C977.9 380.2 979.4 381.2 982.3 382.0 C985.2 382.8 988.4 384.3 991.5 384.9 C994.5 385.4 996.6 384.7 999.5 385.2 C1002.3 385.7 1005.0 387.5 1007.5 387.5 C1009.9 387.5 1010.9 386.5 1013.2 385.4 C1015.4 384.4 1017.8 382.3 1020.0 381.4 C1022.3 380.6 1024.7 380.8 1025.8 380.6" fill="none" stroke="#2446f0" stroke-width="1.1" stroke-linejoin="round" stroke-linecap="round" />
</g>
<rect x="1.5" y="351.6" width="1063.0" height="40.599999999999966" fill="none" stroke="#c9d0e8" stroke-width="1"/>
<line x1="522" x2="542" y1="314.3" y2="314.3" stroke="#666" stroke-width="0.9"/>
<line x1="522" x2="542" y1="316.4" y2="316.4" stroke="#666" stroke-width="0.9"/>
<line x1="522" x2="542" y1="318.5" y2="318.5" stroke="#666" stroke-width="0.9"/>
<line x1="522" x2="542" y1="345.4" y2="345.4" stroke="#666" stroke-width="0.9"/>
<line x1="522" x2="542" y1="347.5" y2="347.5" stroke="#666" stroke-width="0.9"/>
<line x1="522" x2="542" y1="349.6" y2="349.6" stroke="#666" stroke-width="0.9"/>
<line x1="1064.5" x2="1069.8" y1="270.40" y2="270.40" stroke="#999" stroke-width="1"/>
<text x="1071.8" y="274.55" font-size="11" fill="#505050">66.0000</text>
<line x1="1064.5" x2="1069.8" y1="228.73" y2="228.73" stroke="#999" stroke-width="1"/>
<text x="1071.8" y="232.88" font-size="11" fill="#505050">68.0000</text>
<line x1="1064.5" x2="1069.8" y1="187.07" y2="187.07" stroke="#999" stroke-width="1"/>
<text x="1071.8" y="191.22" font-size="11" fill="#505050">70.0000</text>
<line x1="1064.5" x2="1069.8" y1="145.40" y2="145.40" stroke="#999" stroke-width="1"/>
<text x="1071.8" y="149.55" font-size="11" fill="#505050">72.0000</text>
<line x1="1064.5" x2="1069.8" y1="103.73" y2="103.73" stroke="#999" stroke-width="1"/>
<text x="1071.8" y="107.88" font-size="11" fill="#505050">74.0000</text>
<line x1="1064.5" x2="1069.8" y1="62.07" y2="62.07" stroke="#999" stroke-width="1"/>
<text x="1071.8" y="66.22" font-size="11" fill="#505050">76.0000</text>
<line x1="1064.5" x2="1069.8" y1="20.40" y2="20.40" stroke="#999" stroke-width="1"/>
<text x="1071.8" y="25.30" font-size="11" fill="#505050">78.0000</text>
<line x1="1064.5" x2="1069.8" y1="329.3" y2="329.3" stroke="#999" stroke-width="1"/>
<text x="1071.8" y="333.2" font-size="11" fill="#505050">-0.0000</text>
<line x1="1064.5" x2="1069.8" y1="390.9" y2="390.9" stroke="#999" stroke-width="1"/>
<text x="1071.8" y="394.9" font-size="11" fill="#505050">0.0000</text>
<path d="M1061.3 288.3 L1068 281.6 L1127.6 281.6 L1127.6 294.8 L1068 294.8 Z" fill="#2c476b"/>
<text x="1071.5" y="292.4" font-size="11" font-weight="bold" fill="#fff">65.142438</text>
<line x1="1.5" x2="1.5" y1="392.5" y2="394.6" stroke="#999" stroke-width="1"/>
<text x="0.9" y="408.5" font-size="11" fill="#505050">Aug</text>
<line x1="51.3" x2="51.3" y1="392.5" y2="394.6" stroke="#999" stroke-width="1"/>
<text x="51.3" y="408.5" font-size="11" fill="#505050" text-anchor="middle">19</text>
<line x1="144.17000000000002" x2="144.17000000000002" y1="392.5" y2="394.6" stroke="#999" stroke-width="1"/>
<text x="144.17000000000002" y="408.5" font-size="11" fill="#505050" text-anchor="middle">20</text>
<line x1="237.04000000000002" x2="237.04000000000002" y1="392.5" y2="394.6" stroke="#999" stroke-width="1"/>
<text x="237.04000000000002" y="408.5" font-size="11" fill="#505050" text-anchor="middle">21</text>
<line x1="329.91" x2="329.91" y1="392.5" y2="394.6" stroke="#999" stroke-width="1"/>
<text x="329.91" y="408.5" font-size="11" fill="#505050" text-anchor="middle">22</text>
<line x1="422.78000000000003" x2="422.78000000000003" y1="392.5" y2="394.6" stroke="#999" stroke-width="1"/>
<text x="422.78000000000003" y="408.5" font-size="11" fill="#505050" text-anchor="middle">23</text>
<line x1="515.65" x2="515.65" y1="392.5" y2="394.6" stroke="#999" stroke-width="1"/>
<text x="515.65" y="408.5" font-size="11" fill="#505050" text-anchor="middle">24</text>
<line x1="608.52" x2="608.52" y1="392.5" y2="394.6" stroke="#999" stroke-width="1"/>
<text x="608.52" y="408.5" font-size="11" fill="#505050" text-anchor="middle">25</text>
<line x1="701.39" x2="701.39" y1="392.5" y2="394.6" stroke="#999" stroke-width="1"/>
<text x="701.39" y="408.5" font-size="11" fill="#505050" text-anchor="middle">26</text>
<line x1="794.26" x2="794.26" y1="392.5" y2="394.6" stroke="#999" stroke-width="1"/>
<text x="794.26" y="408.5" font-size="11" fill="#505050" text-anchor="middle">27</text>
<line x1="887.13" x2="887.13" y1="392.5" y2="394.6" stroke="#999" stroke-width="1"/>
<text x="887.13" y="408.5" font-size="11" fill="#505050" text-anchor="middle">28</text>
<line x1="980.0" x2="980.0" y1="392.5" y2="394.6" stroke="#999" stroke-width="1"/>
<text x="980.0" y="408.5" font-size="11" fill="#505050" text-anchor="middle">29</text>
<line x1="0" x2="1137" y1="426.5" y2="426.5" stroke="#e3e3ec" stroke-width="1"/>
<rect x="6" y="7" width="61.8" height="21.8" fill="rgba(0,0,0,0.6)"/>
<rect x="6" y="7" width="3" height="21.8" fill="#2f8c74"/>
<text x="15" y="22.0" font-size="11" font-weight="bold" fill="#fff">LTC/USD</text>
<rect x="69.1" y="7" width="21.8" height="21.8" fill="rgba(0,0,0,0.6)"/>
<rect x="92.1" y="7" width="22" height="21.8" fill="rgba(0,0,0,0.6)"/>
<rect x="6" y="34" width="70.7" height="21.8" fill="rgba(0,0,0,0.6)"/>
<rect x="6" y="34" width="3" height="21.8" fill="#0000ff"/>
<text x="15" y="49.0" font-size="11" font-weight="bold" fill="#fff">SMA (50,0)</text>
<rect x="6" y="61.2" width="76.9" height="21.4" fill="rgba(0,0,0,0.6)"/>
<rect x="6" y="61.2" width="3" height="21.4" fill="#e8600a"/>
<text x="15" y="76.0" font-size="11" font-weight="bold" fill="#fff">SMA (100,0)</text>
<rect x="6" y="325" width="94.8" height="17.7" fill="rgba(0,0,0,0.6)"/>
<rect x="6" y="325" width="3" height="17.7" fill="#0000ff"/>
<text x="15" y="340.1" font-size="11" font-weight="bold" fill="#fff">MACD (12,26,9)</text>
<rect x="6" y="356.3" width="116.8" height="21.4" fill="rgba(0,0,0,0.6)"/>
<rect x="6" y="356.3" width="3" height="21.4" fill="#00e000"/>
<text x="15" y="371.1" font-size="11" font-weight="bold" fill="#fff">SSTO (14,3,3,80,20)</text>
<path d="M81.3 13.6 A5.7 5.7 0 1 0 87 19.5" fill="none" stroke="#fff" stroke-width="1.05"/>
<path d="M80.6 11.6 L83.2 13.5 L80.6 15.4 Z" fill="#fff"/>
<path d="M98.4 13.5 L109.6 13.5 L109.6 23.2 L97.2 23.2 L97.2 18" fill="none" stroke="#fff" stroke-width="1.05"/>
<path d="M98.7 10.8 L95.9 13.5 L98.7 16.2 Z" fill="#fff"/>
<path d="M100.3 20.7 L100.3 17.3 M103.5 20.7 L103.5 16.7 M106.6 20.7 L106.6 16.2" fill="none" stroke="#fff" stroke-width="1.05"/>
</svg>
</body></html>
